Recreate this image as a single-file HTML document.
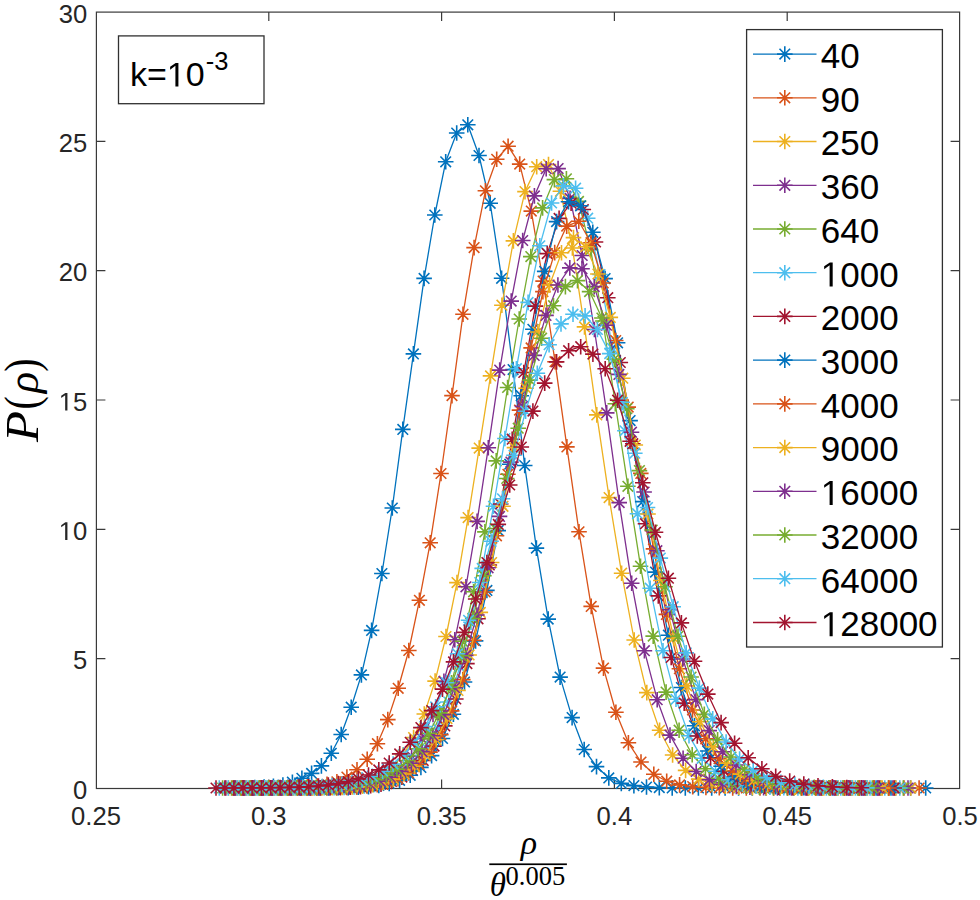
<!DOCTYPE html><html><head><meta charset="utf-8"><style>html,body{margin:0;padding:0;background:#fff;}svg{display:block;}</style></head><body><svg width="980" height="900" viewBox="0 0 980 900"><rect width="980" height="900" fill="#fff"/><rect x="96.4" y="12.1" width="863.2" height="776.4" fill="none" stroke="#3a3a3a" stroke-width="1.2"/><path d="M268.8 788.5v-9.0M268.8 12.1v9.0M441.6 788.5v-9.0M441.6 12.1v9.0M614.4 788.5v-9.0M614.4 12.1v9.0M787.2 788.5v-9.0M787.2 12.1v9.0M96.4 658.7h9.0M959.6 658.7h-9.0M96.4 529.3h9.0M959.6 529.3h-9.0M96.4 400.0h9.0M959.6 400.0h-9.0M96.4 270.7h9.0M959.6 270.7h-9.0M96.4 141.3h9.0M959.6 141.3h-9.0" stroke="#3a3a3a" stroke-width="1.2" fill="none"/><g stroke="#0072BD" fill="none"><polyline points="254.8,787.5 264.1,787.1 273.4,786.4 282.9,785.1 292.4,782.2 301.9,778.3 311.6,773.4 321.4,765.9 331.3,753.3 341.2,734.5 351.2,707.2 361.4,674.9 371.6,630.4 381.9,573.5 392.3,508.0 402.8,429.4 413.4,353.9 424.1,278.4 434.8,215.0 445.7,161.8 456.7,133.0 467.8,124.8 479.0,155.5 490.2,203.3 501.6,278.3 513.1,369.6 524.7,465.5 536.4,548.1 548.2,619.1 560.1,677.1 572.1,717.6 584.2,749.5 596.5,766.6 608.8,777.9 621.3,783.4 633.9,785.6 646.5,787.0 659.3,787.6 672.2,787.9 685.3,788.0 698.4,788.0 711.7,788.0 725.1,788.0 738.6,788.0 752.2,788.0 766.0,788.0 779.8,788.0 793.8,788.0 808.0,788.0 822.2,788.0 836.6,788.0 851.1,788.0 865.8,788.0 880.6,788.0 895.5,788.0 910.5,788.0 925.7,788.0" stroke-width="1.3" stroke-linejoin="round"/><path d="M247.0 787.5h15.6M254.8 779.7v15.6M249.5 782.2l10.6 10.6M249.5 792.8l10.6 -10.6M256.3 787.1h15.6M264.1 779.3v15.6M258.8 781.8l10.6 10.6M258.8 792.4l10.6 -10.6M265.6 786.4h15.6M273.4 778.6v15.6M268.1 781.1l10.6 10.6M268.1 791.7l10.6 -10.6M275.1 785.1h15.6M282.9 777.3v15.6M277.6 779.8l10.6 10.6M277.6 790.4l10.6 -10.6M284.6 782.2h15.6M292.4 774.4v15.6M287.1 776.9l10.6 10.6M287.1 787.5l10.6 -10.6M294.1 778.3h15.6M301.9 770.5v15.6M296.6 773.0l10.6 10.6M296.6 783.6l10.6 -10.6M303.8 773.4h15.6M311.6 765.6v15.6M306.3 768.1l10.6 10.6M306.3 778.7l10.6 -10.6M313.6 765.9h15.6M321.4 758.1v15.6M316.1 760.6l10.6 10.6M316.1 771.2l10.6 -10.6M323.5 753.3h15.6M331.3 745.5v15.6M326.0 748.0l10.6 10.6M326.0 758.6l10.6 -10.6M333.4 734.5h15.6M341.2 726.7v15.6M335.9 729.2l10.6 10.6M335.9 739.8l10.6 -10.6M343.4 707.2h15.6M351.2 699.4v15.6M345.9 701.9l10.6 10.6M345.9 712.5l10.6 -10.6M353.6 674.9h15.6M361.4 667.1v15.6M356.1 669.6l10.6 10.6M356.1 680.2l10.6 -10.6M363.8 630.4h15.6M371.6 622.6v15.6M366.3 625.1l10.6 10.6M366.3 635.7l10.6 -10.6M374.1 573.5h15.6M381.9 565.7v15.6M376.6 568.2l10.6 10.6M376.6 578.8l10.6 -10.6M384.5 508.0h15.6M392.3 500.2v15.6M387.0 502.7l10.6 10.6M387.0 513.3l10.6 -10.6M395.0 429.4h15.6M402.8 421.6v15.6M397.5 424.1l10.6 10.6M397.5 434.7l10.6 -10.6M405.6 353.9h15.6M413.4 346.1v15.6M408.1 348.6l10.6 10.6M408.1 359.2l10.6 -10.6M416.3 278.4h15.6M424.1 270.6v15.6M418.8 273.1l10.6 10.6M418.8 283.7l10.6 -10.6M427.0 215.0h15.6M434.8 207.2v15.6M429.5 209.7l10.6 10.6M429.5 220.3l10.6 -10.6M437.9 161.8h15.6M445.7 154.0v15.6M440.4 156.5l10.6 10.6M440.4 167.1l10.6 -10.6M448.9 133.0h15.6M456.7 125.2v15.6M451.4 127.7l10.6 10.6M451.4 138.3l10.6 -10.6M460.0 124.8h15.6M467.8 117.0v15.6M462.5 119.5l10.6 10.6M462.5 130.1l10.6 -10.6M471.2 155.5h15.6M479.0 147.7v15.6M473.7 150.2l10.6 10.6M473.7 160.8l10.6 -10.6M482.4 203.3h15.6M490.2 195.5v15.6M484.9 198.0l10.6 10.6M484.9 208.6l10.6 -10.6M493.8 278.3h15.6M501.6 270.5v15.6M496.3 273.0l10.6 10.6M496.3 283.6l10.6 -10.6M505.3 369.6h15.6M513.1 361.8v15.6M507.8 364.3l10.6 10.6M507.8 374.9l10.6 -10.6M516.9 465.5h15.6M524.7 457.7v15.6M519.4 460.2l10.6 10.6M519.4 470.8l10.6 -10.6M528.6 548.1h15.6M536.4 540.3v15.6M531.1 542.8l10.6 10.6M531.1 553.4l10.6 -10.6M540.4 619.1h15.6M548.2 611.3v15.6M542.9 613.8l10.6 10.6M542.9 624.4l10.6 -10.6M552.3 677.1h15.6M560.1 669.3v15.6M554.8 671.8l10.6 10.6M554.8 682.4l10.6 -10.6M564.3 717.6h15.6M572.1 709.8v15.6M566.8 712.3l10.6 10.6M566.8 722.9l10.6 -10.6M576.4 749.5h15.6M584.2 741.7v15.6M578.9 744.2l10.6 10.6M578.9 754.8l10.6 -10.6M588.7 766.6h15.6M596.5 758.8v15.6M591.2 761.3l10.6 10.6M591.2 771.9l10.6 -10.6M601.0 777.9h15.6M608.8 770.1v15.6M603.5 772.6l10.6 10.6M603.5 783.2l10.6 -10.6M613.5 783.4h15.6M621.3 775.6v15.6M616.0 778.1l10.6 10.6M616.0 788.7l10.6 -10.6M626.1 785.6h15.6M633.9 777.8v15.6M628.6 780.3l10.6 10.6M628.6 790.9l10.6 -10.6M638.7 787.0h15.6M646.5 779.2v15.6M641.2 781.7l10.6 10.6M641.2 792.3l10.6 -10.6M651.5 787.6h15.6M659.3 779.8v15.6M654.0 782.3l10.6 10.6M654.0 792.9l10.6 -10.6M664.4 787.9h15.6M672.2 780.1v15.6M666.9 782.6l10.6 10.6M666.9 793.2l10.6 -10.6M677.5 788.0h15.6M685.3 780.2v15.6M680.0 782.7l10.6 10.6M680.0 793.3l10.6 -10.6M690.6 788.0h15.6M698.4 780.2v15.6M693.1 782.7l10.6 10.6M693.1 793.3l10.6 -10.6M703.9 788.0h15.6M711.7 780.2v15.6M706.4 782.7l10.6 10.6M706.4 793.3l10.6 -10.6M717.3 788.0h15.6M725.1 780.2v15.6M719.8 782.7l10.6 10.6M719.8 793.3l10.6 -10.6M730.8 788.0h15.6M738.6 780.2v15.6M733.3 782.7l10.6 10.6M733.3 793.3l10.6 -10.6M744.4 788.0h15.6M752.2 780.2v15.6M746.9 782.7l10.6 10.6M746.9 793.3l10.6 -10.6M758.2 788.0h15.6M766.0 780.2v15.6M760.7 782.7l10.6 10.6M760.7 793.3l10.6 -10.6M772.0 788.0h15.6M779.8 780.2v15.6M774.5 782.7l10.6 10.6M774.5 793.3l10.6 -10.6M786.0 788.0h15.6M793.8 780.2v15.6M788.5 782.7l10.6 10.6M788.5 793.3l10.6 -10.6M800.2 788.0h15.6M808.0 780.2v15.6M802.7 782.7l10.6 10.6M802.7 793.3l10.6 -10.6M814.4 788.0h15.6M822.2 780.2v15.6M816.9 782.7l10.6 10.6M816.9 793.3l10.6 -10.6M828.8 788.0h15.6M836.6 780.2v15.6M831.3 782.7l10.6 10.6M831.3 793.3l10.6 -10.6M843.3 788.0h15.6M851.1 780.2v15.6M845.8 782.7l10.6 10.6M845.8 793.3l10.6 -10.6M858.0 788.0h15.6M865.8 780.2v15.6M860.5 782.7l10.6 10.6M860.5 793.3l10.6 -10.6M872.8 788.0h15.6M880.6 780.2v15.6M875.3 782.7l10.6 10.6M875.3 793.3l10.6 -10.6M887.7 788.0h15.6M895.5 780.2v15.6M890.2 782.7l10.6 10.6M890.2 793.3l10.6 -10.6M902.7 788.0h15.6M910.5 780.2v15.6M905.2 782.7l10.6 10.6M905.2 793.3l10.6 -10.6M917.9 788.0h15.6M925.7 780.2v15.6M920.4 782.7l10.6 10.6M920.4 793.3l10.6 -10.6" stroke-width="1.6"/></g><g stroke="#D95319" fill="none"><polyline points="250.9,788.0 260.1,788.0 269.4,787.9 278.8,787.8 288.2,787.7 297.8,787.4 307.4,786.9 317.2,786.0 327.0,784.4 336.9,781.8 346.9,777.0 357.0,769.8 367.2,759.3 377.4,743.7 387.8,719.6 398.2,688.3 408.8,650.5 419.4,600.3 430.2,542.8 441.0,473.5 452.0,395.6 463.0,314.3 474.1,247.6 485.4,190.8 496.7,159.3 508.1,146.2 519.7,164.1 531.3,211.1 543.1,281.1 555.0,361.7 566.9,446.9 579.0,531.8 591.2,606.4 603.5,668.1 615.9,712.2 628.4,742.8 641.0,762.0 653.8,774.3 666.7,781.2 679.6,784.9 692.7,786.6 705.9,787.5 719.3,787.8 732.7,787.9 746.3,788.0 760.0,788.0 773.8,788.0 787.8,788.0 801.9,788.0 816.1,788.0 830.4,788.0 844.8,788.0 859.4,788.0 874.2,788.0 889.0,788.0 904.0,788.0 919.1,788.0" stroke-width="1.3" stroke-linejoin="round"/><path d="M243.1 788.0h15.6M250.9 780.2v15.6M245.6 782.7l10.6 10.6M245.6 793.3l10.6 -10.6M252.3 788.0h15.6M260.1 780.2v15.6M254.8 782.7l10.6 10.6M254.8 793.3l10.6 -10.6M261.6 787.9h15.6M269.4 780.1v15.6M264.1 782.6l10.6 10.6M264.1 793.2l10.6 -10.6M271.0 787.8h15.6M278.8 780.0v15.6M273.5 782.5l10.6 10.6M273.5 793.1l10.6 -10.6M280.4 787.7h15.6M288.2 779.9v15.6M282.9 782.4l10.6 10.6M282.9 793.0l10.6 -10.6M290.0 787.4h15.6M297.8 779.6v15.6M292.5 782.1l10.6 10.6M292.5 792.7l10.6 -10.6M299.6 786.9h15.6M307.4 779.1v15.6M302.1 781.6l10.6 10.6M302.1 792.2l10.6 -10.6M309.4 786.0h15.6M317.2 778.2v15.6M311.9 780.7l10.6 10.6M311.9 791.3l10.6 -10.6M319.2 784.4h15.6M327.0 776.6v15.6M321.7 779.1l10.6 10.6M321.7 789.7l10.6 -10.6M329.1 781.8h15.6M336.9 774.0v15.6M331.6 776.5l10.6 10.6M331.6 787.1l10.6 -10.6M339.1 777.0h15.6M346.9 769.2v15.6M341.6 771.7l10.6 10.6M341.6 782.3l10.6 -10.6M349.2 769.8h15.6M357.0 762.0v15.6M351.7 764.5l10.6 10.6M351.7 775.1l10.6 -10.6M359.4 759.3h15.6M367.2 751.5v15.6M361.9 754.0l10.6 10.6M361.9 764.6l10.6 -10.6M369.6 743.7h15.6M377.4 735.9v15.6M372.1 738.4l10.6 10.6M372.1 749.0l10.6 -10.6M380.0 719.6h15.6M387.8 711.8v15.6M382.5 714.3l10.6 10.6M382.5 724.9l10.6 -10.6M390.4 688.3h15.6M398.2 680.5v15.6M392.9 683.0l10.6 10.6M392.9 693.6l10.6 -10.6M401.0 650.5h15.6M408.8 642.7v15.6M403.5 645.2l10.6 10.6M403.5 655.8l10.6 -10.6M411.6 600.3h15.6M419.4 592.5v15.6M414.1 595.0l10.6 10.6M414.1 605.6l10.6 -10.6M422.4 542.8h15.6M430.2 535.0v15.6M424.9 537.5l10.6 10.6M424.9 548.1l10.6 -10.6M433.2 473.5h15.6M441.0 465.7v15.6M435.7 468.2l10.6 10.6M435.7 478.8l10.6 -10.6M444.2 395.6h15.6M452.0 387.8v15.6M446.7 390.3l10.6 10.6M446.7 400.9l10.6 -10.6M455.2 314.3h15.6M463.0 306.5v15.6M457.7 309.0l10.6 10.6M457.7 319.6l10.6 -10.6M466.3 247.6h15.6M474.1 239.8v15.6M468.8 242.3l10.6 10.6M468.8 252.9l10.6 -10.6M477.6 190.8h15.6M485.4 183.0v15.6M480.1 185.5l10.6 10.6M480.1 196.1l10.6 -10.6M488.9 159.3h15.6M496.7 151.5v15.6M491.4 154.0l10.6 10.6M491.4 164.6l10.6 -10.6M500.3 146.2h15.6M508.1 138.4v15.6M502.8 140.9l10.6 10.6M502.8 151.5l10.6 -10.6M511.9 164.1h15.6M519.7 156.3v15.6M514.4 158.8l10.6 10.6M514.4 169.4l10.6 -10.6M523.5 211.1h15.6M531.3 203.3v15.6M526.0 205.8l10.6 10.6M526.0 216.4l10.6 -10.6M535.3 281.1h15.6M543.1 273.3v15.6M537.8 275.8l10.6 10.6M537.8 286.4l10.6 -10.6M547.2 361.7h15.6M555.0 353.9v15.6M549.7 356.4l10.6 10.6M549.7 367.0l10.6 -10.6M559.1 446.9h15.6M566.9 439.1v15.6M561.6 441.6l10.6 10.6M561.6 452.2l10.6 -10.6M571.2 531.8h15.6M579.0 524.0v15.6M573.7 526.5l10.6 10.6M573.7 537.1l10.6 -10.6M583.4 606.4h15.6M591.2 598.6v15.6M585.9 601.1l10.6 10.6M585.9 611.7l10.6 -10.6M595.7 668.1h15.6M603.5 660.3v15.6M598.2 662.8l10.6 10.6M598.2 673.4l10.6 -10.6M608.1 712.2h15.6M615.9 704.4v15.6M610.6 706.9l10.6 10.6M610.6 717.5l10.6 -10.6M620.6 742.8h15.6M628.4 735.0v15.6M623.1 737.5l10.6 10.6M623.1 748.1l10.6 -10.6M633.2 762.0h15.6M641.0 754.2v15.6M635.7 756.7l10.6 10.6M635.7 767.3l10.6 -10.6M646.0 774.3h15.6M653.8 766.5v15.6M648.5 769.0l10.6 10.6M648.5 779.6l10.6 -10.6M658.9 781.2h15.6M666.7 773.4v15.6M661.4 775.9l10.6 10.6M661.4 786.5l10.6 -10.6M671.8 784.9h15.6M679.6 777.1v15.6M674.3 779.6l10.6 10.6M674.3 790.2l10.6 -10.6M684.9 786.6h15.6M692.7 778.8v15.6M687.4 781.3l10.6 10.6M687.4 791.9l10.6 -10.6M698.1 787.5h15.6M705.9 779.7v15.6M700.6 782.2l10.6 10.6M700.6 792.8l10.6 -10.6M711.5 787.8h15.6M719.3 780.0v15.6M714.0 782.5l10.6 10.6M714.0 793.1l10.6 -10.6M724.9 787.9h15.6M732.7 780.1v15.6M727.4 782.6l10.6 10.6M727.4 793.2l10.6 -10.6M738.5 788.0h15.6M746.3 780.2v15.6M741.0 782.7l10.6 10.6M741.0 793.3l10.6 -10.6M752.2 788.0h15.6M760.0 780.2v15.6M754.7 782.7l10.6 10.6M754.7 793.3l10.6 -10.6M766.0 788.0h15.6M773.8 780.2v15.6M768.5 782.7l10.6 10.6M768.5 793.3l10.6 -10.6M780.0 788.0h15.6M787.8 780.2v15.6M782.5 782.7l10.6 10.6M782.5 793.3l10.6 -10.6M794.1 788.0h15.6M801.9 780.2v15.6M796.6 782.7l10.6 10.6M796.6 793.3l10.6 -10.6M808.3 788.0h15.6M816.1 780.2v15.6M810.8 782.7l10.6 10.6M810.8 793.3l10.6 -10.6M822.6 788.0h15.6M830.4 780.2v15.6M825.1 782.7l10.6 10.6M825.1 793.3l10.6 -10.6M837.0 788.0h15.6M844.8 780.2v15.6M839.5 782.7l10.6 10.6M839.5 793.3l10.6 -10.6M851.6 788.0h15.6M859.4 780.2v15.6M854.1 782.7l10.6 10.6M854.1 793.3l10.6 -10.6M866.4 788.0h15.6M874.2 780.2v15.6M868.9 782.7l10.6 10.6M868.9 793.3l10.6 -10.6M881.2 788.0h15.6M889.0 780.2v15.6M883.7 782.7l10.6 10.6M883.7 793.3l10.6 -10.6M896.2 788.0h15.6M904.0 780.2v15.6M898.7 782.7l10.6 10.6M898.7 793.3l10.6 -10.6M911.3 788.0h15.6M919.1 780.2v15.6M913.8 782.7l10.6 10.6M913.8 793.3l10.6 -10.6" stroke-width="1.6"/></g><g stroke="#EDB120" fill="none"><polyline points="245.9,788.0 255.1,788.0 264.3,788.0 273.7,788.0 283.1,788.0 292.6,787.9 302.2,787.9 311.9,787.8 321.6,787.6 331.5,787.2 341.4,786.6 351.5,785.5 361.6,783.5 371.8,780.4 382.1,775.2 392.5,767.2 403.0,755.1 413.6,737.6 424.3,714.0 435.1,681.1 446.0,636.5 457.0,582.6 468.1,517.6 479.2,448.1 490.5,375.9 501.9,305.2 513.4,240.9 525.0,191.6 536.7,166.7 548.5,164.6 560.4,191.3 572.4,248.0 584.5,326.9 596.8,414.9 609.1,497.6 621.6,573.2 634.2,640.0 646.8,692.6 659.6,730.3 672.6,755.0 685.6,770.4 698.7,779.1 712.0,783.9 725.4,786.2 738.9,787.3 752.5,787.7 766.3,787.9 780.2,788.0 794.2,788.0 808.3,788.0 822.6,788.0 837.0,788.0 851.5,788.0 866.1,788.0 880.9,788.0 895.8,788.0 910.9,788.0" stroke-width="1.3" stroke-linejoin="round"/><path d="M238.1 788.0h15.6M245.9 780.2v15.6M240.6 782.7l10.6 10.6M240.6 793.3l10.6 -10.6M247.3 788.0h15.6M255.1 780.2v15.6M249.8 782.7l10.6 10.6M249.8 793.3l10.6 -10.6M256.5 788.0h15.6M264.3 780.2v15.6M259.0 782.7l10.6 10.6M259.0 793.3l10.6 -10.6M265.9 788.0h15.6M273.7 780.2v15.6M268.4 782.7l10.6 10.6M268.4 793.3l10.6 -10.6M275.3 788.0h15.6M283.1 780.2v15.6M277.8 782.7l10.6 10.6M277.8 793.3l10.6 -10.6M284.8 787.9h15.6M292.6 780.1v15.6M287.3 782.6l10.6 10.6M287.3 793.2l10.6 -10.6M294.4 787.9h15.6M302.2 780.1v15.6M296.9 782.6l10.6 10.6M296.9 793.2l10.6 -10.6M304.1 787.8h15.6M311.9 780.0v15.6M306.6 782.5l10.6 10.6M306.6 793.1l10.6 -10.6M313.8 787.6h15.6M321.6 779.8v15.6M316.3 782.3l10.6 10.6M316.3 792.9l10.6 -10.6M323.7 787.2h15.6M331.5 779.4v15.6M326.2 781.9l10.6 10.6M326.2 792.5l10.6 -10.6M333.6 786.6h15.6M341.4 778.8v15.6M336.1 781.3l10.6 10.6M336.1 791.9l10.6 -10.6M343.7 785.5h15.6M351.5 777.7v15.6M346.2 780.2l10.6 10.6M346.2 790.8l10.6 -10.6M353.8 783.5h15.6M361.6 775.7v15.6M356.3 778.2l10.6 10.6M356.3 788.8l10.6 -10.6M364.0 780.4h15.6M371.8 772.6v15.6M366.5 775.1l10.6 10.6M366.5 785.7l10.6 -10.6M374.3 775.2h15.6M382.1 767.4v15.6M376.8 769.9l10.6 10.6M376.8 780.5l10.6 -10.6M384.7 767.2h15.6M392.5 759.4v15.6M387.2 761.9l10.6 10.6M387.2 772.5l10.6 -10.6M395.2 755.1h15.6M403.0 747.3v15.6M397.7 749.8l10.6 10.6M397.7 760.4l10.6 -10.6M405.8 737.6h15.6M413.6 729.8v15.6M408.3 732.3l10.6 10.6M408.3 742.9l10.6 -10.6M416.5 714.0h15.6M424.3 706.2v15.6M419.0 708.7l10.6 10.6M419.0 719.3l10.6 -10.6M427.3 681.1h15.6M435.1 673.3v15.6M429.8 675.8l10.6 10.6M429.8 686.4l10.6 -10.6M438.2 636.5h15.6M446.0 628.7v15.6M440.7 631.2l10.6 10.6M440.7 641.8l10.6 -10.6M449.2 582.6h15.6M457.0 574.8v15.6M451.7 577.3l10.6 10.6M451.7 587.9l10.6 -10.6M460.3 517.6h15.6M468.1 509.8v15.6M462.8 512.3l10.6 10.6M462.8 522.9l10.6 -10.6M471.4 448.1h15.6M479.2 440.3v15.6M473.9 442.8l10.6 10.6M473.9 453.4l10.6 -10.6M482.7 375.9h15.6M490.5 368.1v15.6M485.2 370.6l10.6 10.6M485.2 381.2l10.6 -10.6M494.1 305.2h15.6M501.9 297.4v15.6M496.6 299.9l10.6 10.6M496.6 310.5l10.6 -10.6M505.6 240.9h15.6M513.4 233.1v15.6M508.1 235.6l10.6 10.6M508.1 246.2l10.6 -10.6M517.2 191.6h15.6M525.0 183.8v15.6M519.7 186.3l10.6 10.6M519.7 196.9l10.6 -10.6M528.9 166.7h15.6M536.7 158.9v15.6M531.4 161.4l10.6 10.6M531.4 172.0l10.6 -10.6M540.7 164.6h15.6M548.5 156.8v15.6M543.2 159.3l10.6 10.6M543.2 169.9l10.6 -10.6M552.6 191.3h15.6M560.4 183.5v15.6M555.1 186.0l10.6 10.6M555.1 196.6l10.6 -10.6M564.6 248.0h15.6M572.4 240.2v15.6M567.1 242.7l10.6 10.6M567.1 253.3l10.6 -10.6M576.7 326.9h15.6M584.5 319.1v15.6M579.2 321.6l10.6 10.6M579.2 332.2l10.6 -10.6M589.0 414.9h15.6M596.8 407.1v15.6M591.5 409.6l10.6 10.6M591.5 420.2l10.6 -10.6M601.3 497.6h15.6M609.1 489.8v15.6M603.8 492.3l10.6 10.6M603.8 502.9l10.6 -10.6M613.8 573.2h15.6M621.6 565.4v15.6M616.3 567.9l10.6 10.6M616.3 578.5l10.6 -10.6M626.4 640.0h15.6M634.2 632.2v15.6M628.9 634.7l10.6 10.6M628.9 645.3l10.6 -10.6M639.0 692.6h15.6M646.8 684.8v15.6M641.5 687.3l10.6 10.6M641.5 697.9l10.6 -10.6M651.8 730.3h15.6M659.6 722.5v15.6M654.3 725.0l10.6 10.6M654.3 735.6l10.6 -10.6M664.8 755.0h15.6M672.6 747.2v15.6M667.3 749.7l10.6 10.6M667.3 760.3l10.6 -10.6M677.8 770.4h15.6M685.6 762.6v15.6M680.3 765.1l10.6 10.6M680.3 775.7l10.6 -10.6M690.9 779.1h15.6M698.7 771.3v15.6M693.4 773.8l10.6 10.6M693.4 784.4l10.6 -10.6M704.2 783.9h15.6M712.0 776.1v15.6M706.7 778.6l10.6 10.6M706.7 789.2l10.6 -10.6M717.6 786.2h15.6M725.4 778.4v15.6M720.1 780.9l10.6 10.6M720.1 791.5l10.6 -10.6M731.1 787.3h15.6M738.9 779.5v15.6M733.6 782.0l10.6 10.6M733.6 792.6l10.6 -10.6M744.7 787.7h15.6M752.5 779.9v15.6M747.2 782.4l10.6 10.6M747.2 793.0l10.6 -10.6M758.5 787.9h15.6M766.3 780.1v15.6M761.0 782.6l10.6 10.6M761.0 793.2l10.6 -10.6M772.4 788.0h15.6M780.2 780.2v15.6M774.9 782.7l10.6 10.6M774.9 793.3l10.6 -10.6M786.4 788.0h15.6M794.2 780.2v15.6M788.9 782.7l10.6 10.6M788.9 793.3l10.6 -10.6M800.5 788.0h15.6M808.3 780.2v15.6M803.0 782.7l10.6 10.6M803.0 793.3l10.6 -10.6M814.8 788.0h15.6M822.6 780.2v15.6M817.3 782.7l10.6 10.6M817.3 793.3l10.6 -10.6M829.2 788.0h15.6M837.0 780.2v15.6M831.7 782.7l10.6 10.6M831.7 793.3l10.6 -10.6M843.7 788.0h15.6M851.5 780.2v15.6M846.2 782.7l10.6 10.6M846.2 793.3l10.6 -10.6M858.3 788.0h15.6M866.1 780.2v15.6M860.8 782.7l10.6 10.6M860.8 793.3l10.6 -10.6M873.1 788.0h15.6M880.9 780.2v15.6M875.6 782.7l10.6 10.6M875.6 793.3l10.6 -10.6M888.0 788.0h15.6M895.8 780.2v15.6M890.5 782.7l10.6 10.6M890.5 793.3l10.6 -10.6M903.1 788.0h15.6M910.9 780.2v15.6M905.6 782.7l10.6 10.6M905.6 793.3l10.6 -10.6" stroke-width="1.6"/></g><g stroke="#7E2F8E" fill="none"><polyline points="244.1,788.0 253.3,788.0 262.5,788.0 271.8,788.0 281.2,788.0 290.7,788.0 300.3,788.0 310.0,787.9 319.7,787.8 329.6,787.6 339.5,787.3 349.5,786.7 359.6,785.6 369.8,783.8 380.1,780.7 390.5,775.8 401.0,768.0 411.6,756.1 422.2,738.8 433.0,714.4 443.9,681.4 454.8,639.8 465.9,586.8 477.1,521.4 488.3,447.7 499.7,370.1 511.2,301.1 522.7,240.5 534.4,195.9 546.2,168.7 558.1,168.6 570.1,198.4 582.2,255.5 594.4,329.5 606.7,412.9 619.2,502.6 631.7,583.3 644.4,650.7 657.2,699.7 670.0,735.1 683.1,758.2 696.2,771.5 709.4,779.8 722.8,784.2 736.3,786.4 749.9,787.3 763.6,787.8 777.5,787.9 791.5,788.0 805.6,788.0 819.8,788.0 834.2,788.0 848.7,788.0 863.3,788.0 878.0,788.0 892.9,788.0 908.0,788.0" stroke-width="1.3" stroke-linejoin="round"/><path d="M236.3 788.0h15.6M244.1 780.2v15.6M238.8 782.7l10.6 10.6M238.8 793.3l10.6 -10.6M245.5 788.0h15.6M253.3 780.2v15.6M248.0 782.7l10.6 10.6M248.0 793.3l10.6 -10.6M254.7 788.0h15.6M262.5 780.2v15.6M257.2 782.7l10.6 10.6M257.2 793.3l10.6 -10.6M264.0 788.0h15.6M271.8 780.2v15.6M266.5 782.7l10.6 10.6M266.5 793.3l10.6 -10.6M273.4 788.0h15.6M281.2 780.2v15.6M275.9 782.7l10.6 10.6M275.9 793.3l10.6 -10.6M282.9 788.0h15.6M290.7 780.2v15.6M285.4 782.7l10.6 10.6M285.4 793.3l10.6 -10.6M292.5 788.0h15.6M300.3 780.2v15.6M295.0 782.7l10.6 10.6M295.0 793.3l10.6 -10.6M302.2 787.9h15.6M310.0 780.1v15.6M304.7 782.6l10.6 10.6M304.7 793.2l10.6 -10.6M311.9 787.8h15.6M319.7 780.0v15.6M314.4 782.5l10.6 10.6M314.4 793.1l10.6 -10.6M321.8 787.6h15.6M329.6 779.8v15.6M324.3 782.3l10.6 10.6M324.3 792.9l10.6 -10.6M331.7 787.3h15.6M339.5 779.5v15.6M334.2 782.0l10.6 10.6M334.2 792.6l10.6 -10.6M341.7 786.7h15.6M349.5 778.9v15.6M344.2 781.4l10.6 10.6M344.2 792.0l10.6 -10.6M351.8 785.6h15.6M359.6 777.8v15.6M354.3 780.3l10.6 10.6M354.3 790.9l10.6 -10.6M362.0 783.8h15.6M369.8 776.0v15.6M364.5 778.5l10.6 10.6M364.5 789.1l10.6 -10.6M372.3 780.7h15.6M380.1 772.9v15.6M374.8 775.4l10.6 10.6M374.8 786.0l10.6 -10.6M382.7 775.8h15.6M390.5 768.0v15.6M385.2 770.5l10.6 10.6M385.2 781.1l10.6 -10.6M393.2 768.0h15.6M401.0 760.2v15.6M395.7 762.7l10.6 10.6M395.7 773.3l10.6 -10.6M403.8 756.1h15.6M411.6 748.3v15.6M406.3 750.8l10.6 10.6M406.3 761.4l10.6 -10.6M414.4 738.8h15.6M422.2 731.0v15.6M416.9 733.5l10.6 10.6M416.9 744.1l10.6 -10.6M425.2 714.4h15.6M433.0 706.6v15.6M427.7 709.1l10.6 10.6M427.7 719.7l10.6 -10.6M436.1 681.4h15.6M443.9 673.6v15.6M438.6 676.1l10.6 10.6M438.6 686.7l10.6 -10.6M447.0 639.8h15.6M454.8 632.0v15.6M449.5 634.5l10.6 10.6M449.5 645.1l10.6 -10.6M458.1 586.8h15.6M465.9 579.0v15.6M460.6 581.5l10.6 10.6M460.6 592.1l10.6 -10.6M469.3 521.4h15.6M477.1 513.6v15.6M471.8 516.1l10.6 10.6M471.8 526.7l10.6 -10.6M480.5 447.7h15.6M488.3 439.9v15.6M483.0 442.4l10.6 10.6M483.0 453.0l10.6 -10.6M491.9 370.1h15.6M499.7 362.3v15.6M494.4 364.8l10.6 10.6M494.4 375.4l10.6 -10.6M503.4 301.1h15.6M511.2 293.3v15.6M505.9 295.8l10.6 10.6M505.9 306.4l10.6 -10.6M514.9 240.5h15.6M522.7 232.7v15.6M517.4 235.2l10.6 10.6M517.4 245.8l10.6 -10.6M526.6 195.9h15.6M534.4 188.1v15.6M529.1 190.6l10.6 10.6M529.1 201.2l10.6 -10.6M538.4 168.7h15.6M546.2 160.9v15.6M540.9 163.4l10.6 10.6M540.9 174.0l10.6 -10.6M550.3 168.6h15.6M558.1 160.8v15.6M552.8 163.3l10.6 10.6M552.8 173.9l10.6 -10.6M562.3 198.4h15.6M570.1 190.6v15.6M564.8 193.1l10.6 10.6M564.8 203.7l10.6 -10.6M574.4 255.5h15.6M582.2 247.7v15.6M576.9 250.2l10.6 10.6M576.9 260.8l10.6 -10.6M586.6 329.5h15.6M594.4 321.7v15.6M589.1 324.2l10.6 10.6M589.1 334.8l10.6 -10.6M598.9 412.9h15.6M606.7 405.1v15.6M601.4 407.6l10.6 10.6M601.4 418.2l10.6 -10.6M611.4 502.6h15.6M619.2 494.8v15.6M613.9 497.3l10.6 10.6M613.9 507.9l10.6 -10.6M623.9 583.3h15.6M631.7 575.5v15.6M626.4 578.0l10.6 10.6M626.4 588.6l10.6 -10.6M636.6 650.7h15.6M644.4 642.9v15.6M639.1 645.4l10.6 10.6M639.1 656.0l10.6 -10.6M649.4 699.7h15.6M657.2 691.9v15.6M651.9 694.4l10.6 10.6M651.9 705.0l10.6 -10.6M662.2 735.1h15.6M670.0 727.3v15.6M664.7 729.8l10.6 10.6M664.7 740.4l10.6 -10.6M675.3 758.2h15.6M683.1 750.4v15.6M677.8 752.9l10.6 10.6M677.8 763.5l10.6 -10.6M688.4 771.5h15.6M696.2 763.7v15.6M690.9 766.2l10.6 10.6M690.9 776.8l10.6 -10.6M701.6 779.8h15.6M709.4 772.0v15.6M704.1 774.5l10.6 10.6M704.1 785.1l10.6 -10.6M715.0 784.2h15.6M722.8 776.4v15.6M717.5 778.9l10.6 10.6M717.5 789.5l10.6 -10.6M728.5 786.4h15.6M736.3 778.6v15.6M731.0 781.1l10.6 10.6M731.0 791.7l10.6 -10.6M742.1 787.3h15.6M749.9 779.5v15.6M744.6 782.0l10.6 10.6M744.6 792.6l10.6 -10.6M755.8 787.8h15.6M763.6 780.0v15.6M758.3 782.5l10.6 10.6M758.3 793.1l10.6 -10.6M769.7 787.9h15.6M777.5 780.1v15.6M772.2 782.6l10.6 10.6M772.2 793.2l10.6 -10.6M783.7 788.0h15.6M791.5 780.2v15.6M786.2 782.7l10.6 10.6M786.2 793.3l10.6 -10.6M797.8 788.0h15.6M805.6 780.2v15.6M800.3 782.7l10.6 10.6M800.3 793.3l10.6 -10.6M812.0 788.0h15.6M819.8 780.2v15.6M814.5 782.7l10.6 10.6M814.5 793.3l10.6 -10.6M826.4 788.0h15.6M834.2 780.2v15.6M828.9 782.7l10.6 10.6M828.9 793.3l10.6 -10.6M840.9 788.0h15.6M848.7 780.2v15.6M843.4 782.7l10.6 10.6M843.4 793.3l10.6 -10.6M855.5 788.0h15.6M863.3 780.2v15.6M858.0 782.7l10.6 10.6M858.0 793.3l10.6 -10.6M870.2 788.0h15.6M878.0 780.2v15.6M872.7 782.7l10.6 10.6M872.7 793.3l10.6 -10.6M885.1 788.0h15.6M892.9 780.2v15.6M887.6 782.7l10.6 10.6M887.6 793.3l10.6 -10.6M900.2 788.0h15.6M908.0 780.2v15.6M902.7 782.7l10.6 10.6M902.7 793.3l10.6 -10.6" stroke-width="1.6"/></g><g stroke="#77AC30" fill="none"><polyline points="241.3,788.0 250.5,788.0 259.7,788.0 269.0,788.0 278.4,788.0 287.8,788.0 297.4,788.0 307.0,787.9 316.7,787.9 326.6,787.8 336.5,787.6 346.4,787.2 356.5,786.6 366.7,785.4 377.0,783.5 387.3,780.3 397.8,775.2 408.3,767.4 419.0,755.6 429.7,738.6 440.5,714.8 451.5,682.7 462.5,641.3 473.6,591.8 484.9,531.9 496.2,460.9 507.6,387.5 519.2,319.0 530.8,256.6 542.6,207.9 554.4,179.6 566.4,178.8 578.5,201.4 590.7,249.6 602.9,321.0 615.3,403.8 627.9,486.3 640.5,566.2 653.2,636.1 666.1,692.1 679.1,730.2 692.2,754.8 705.4,768.8 718.7,778.3 732.1,783.4 745.7,786.0 759.4,787.2 773.2,787.7 787.2,787.9 801.2,788.0 815.4,788.0 829.8,788.0 844.2,788.0 858.8,788.0 873.5,788.0 888.4,788.0 903.3,788.0" stroke-width="1.3" stroke-linejoin="round"/><path d="M233.5 788.0h15.6M241.3 780.2v15.6M236.0 782.7l10.6 10.6M236.0 793.3l10.6 -10.6M242.7 788.0h15.6M250.5 780.2v15.6M245.2 782.7l10.6 10.6M245.2 793.3l10.6 -10.6M251.9 788.0h15.6M259.7 780.2v15.6M254.4 782.7l10.6 10.6M254.4 793.3l10.6 -10.6M261.2 788.0h15.6M269.0 780.2v15.6M263.7 782.7l10.6 10.6M263.7 793.3l10.6 -10.6M270.6 788.0h15.6M278.4 780.2v15.6M273.1 782.7l10.6 10.6M273.1 793.3l10.6 -10.6M280.0 788.0h15.6M287.8 780.2v15.6M282.5 782.7l10.6 10.6M282.5 793.3l10.6 -10.6M289.6 788.0h15.6M297.4 780.2v15.6M292.1 782.7l10.6 10.6M292.1 793.3l10.6 -10.6M299.2 787.9h15.6M307.0 780.1v15.6M301.7 782.6l10.6 10.6M301.7 793.2l10.6 -10.6M308.9 787.9h15.6M316.7 780.1v15.6M311.4 782.6l10.6 10.6M311.4 793.2l10.6 -10.6M318.8 787.8h15.6M326.6 780.0v15.6M321.3 782.5l10.6 10.6M321.3 793.1l10.6 -10.6M328.7 787.6h15.6M336.5 779.8v15.6M331.2 782.3l10.6 10.6M331.2 792.9l10.6 -10.6M338.6 787.2h15.6M346.4 779.4v15.6M341.1 781.9l10.6 10.6M341.1 792.5l10.6 -10.6M348.7 786.6h15.6M356.5 778.8v15.6M351.2 781.3l10.6 10.6M351.2 791.9l10.6 -10.6M358.9 785.4h15.6M366.7 777.6v15.6M361.4 780.1l10.6 10.6M361.4 790.7l10.6 -10.6M369.2 783.5h15.6M377.0 775.7v15.6M371.7 778.2l10.6 10.6M371.7 788.8l10.6 -10.6M379.5 780.3h15.6M387.3 772.5v15.6M382.0 775.0l10.6 10.6M382.0 785.6l10.6 -10.6M390.0 775.2h15.6M397.8 767.4v15.6M392.5 769.9l10.6 10.6M392.5 780.5l10.6 -10.6M400.5 767.4h15.6M408.3 759.6v15.6M403.0 762.1l10.6 10.6M403.0 772.7l10.6 -10.6M411.2 755.6h15.6M419.0 747.8v15.6M413.7 750.3l10.6 10.6M413.7 760.9l10.6 -10.6M421.9 738.6h15.6M429.7 730.8v15.6M424.4 733.3l10.6 10.6M424.4 743.9l10.6 -10.6M432.7 714.8h15.6M440.5 707.0v15.6M435.2 709.5l10.6 10.6M435.2 720.1l10.6 -10.6M443.7 682.7h15.6M451.5 674.9v15.6M446.2 677.4l10.6 10.6M446.2 688.0l10.6 -10.6M454.7 641.3h15.6M462.5 633.5v15.6M457.2 636.0l10.6 10.6M457.2 646.6l10.6 -10.6M465.8 591.8h15.6M473.6 584.0v15.6M468.3 586.5l10.6 10.6M468.3 597.1l10.6 -10.6M477.1 531.9h15.6M484.9 524.1v15.6M479.6 526.6l10.6 10.6M479.6 537.2l10.6 -10.6M488.4 460.9h15.6M496.2 453.1v15.6M490.9 455.6l10.6 10.6M490.9 466.2l10.6 -10.6M499.8 387.5h15.6M507.6 379.7v15.6M502.3 382.2l10.6 10.6M502.3 392.8l10.6 -10.6M511.4 319.0h15.6M519.2 311.2v15.6M513.9 313.7l10.6 10.6M513.9 324.3l10.6 -10.6M523.0 256.6h15.6M530.8 248.8v15.6M525.5 251.3l10.6 10.6M525.5 261.9l10.6 -10.6M534.8 207.9h15.6M542.6 200.1v15.6M537.3 202.6l10.6 10.6M537.3 213.2l10.6 -10.6M546.6 179.6h15.6M554.4 171.8v15.6M549.1 174.3l10.6 10.6M549.1 184.9l10.6 -10.6M558.6 178.8h15.6M566.4 171.0v15.6M561.1 173.5l10.6 10.6M561.1 184.1l10.6 -10.6M570.7 201.4h15.6M578.5 193.6v15.6M573.2 196.1l10.6 10.6M573.2 206.7l10.6 -10.6M582.9 249.6h15.6M590.7 241.8v15.6M585.4 244.3l10.6 10.6M585.4 254.9l10.6 -10.6M595.1 321.0h15.6M602.9 313.2v15.6M597.6 315.7l10.6 10.6M597.6 326.3l10.6 -10.6M607.5 403.8h15.6M615.3 396.0v15.6M610.0 398.5l10.6 10.6M610.0 409.1l10.6 -10.6M620.1 486.3h15.6M627.9 478.5v15.6M622.6 481.0l10.6 10.6M622.6 491.6l10.6 -10.6M632.7 566.2h15.6M640.5 558.4v15.6M635.2 560.9l10.6 10.6M635.2 571.5l10.6 -10.6M645.4 636.1h15.6M653.2 628.3v15.6M647.9 630.8l10.6 10.6M647.9 641.4l10.6 -10.6M658.3 692.1h15.6M666.1 684.3v15.6M660.8 686.8l10.6 10.6M660.8 697.4l10.6 -10.6M671.3 730.2h15.6M679.1 722.4v15.6M673.8 724.9l10.6 10.6M673.8 735.5l10.6 -10.6M684.4 754.8h15.6M692.2 747.0v15.6M686.9 749.5l10.6 10.6M686.9 760.1l10.6 -10.6M697.6 768.8h15.6M705.4 761.0v15.6M700.1 763.5l10.6 10.6M700.1 774.1l10.6 -10.6M710.9 778.3h15.6M718.7 770.5v15.6M713.4 773.0l10.6 10.6M713.4 783.6l10.6 -10.6M724.3 783.4h15.6M732.1 775.6v15.6M726.8 778.1l10.6 10.6M726.8 788.7l10.6 -10.6M737.9 786.0h15.6M745.7 778.2v15.6M740.4 780.7l10.6 10.6M740.4 791.3l10.6 -10.6M751.6 787.2h15.6M759.4 779.4v15.6M754.1 781.9l10.6 10.6M754.1 792.5l10.6 -10.6M765.4 787.7h15.6M773.2 779.9v15.6M767.9 782.4l10.6 10.6M767.9 793.0l10.6 -10.6M779.4 787.9h15.6M787.2 780.1v15.6M781.9 782.6l10.6 10.6M781.9 793.2l10.6 -10.6M793.4 788.0h15.6M801.2 780.2v15.6M795.9 782.7l10.6 10.6M795.9 793.3l10.6 -10.6M807.6 788.0h15.6M815.4 780.2v15.6M810.1 782.7l10.6 10.6M810.1 793.3l10.6 -10.6M822.0 788.0h15.6M829.8 780.2v15.6M824.5 782.7l10.6 10.6M824.5 793.3l10.6 -10.6M836.4 788.0h15.6M844.2 780.2v15.6M838.9 782.7l10.6 10.6M838.9 793.3l10.6 -10.6M851.0 788.0h15.6M858.8 780.2v15.6M853.5 782.7l10.6 10.6M853.5 793.3l10.6 -10.6M865.7 788.0h15.6M873.5 780.2v15.6M868.2 782.7l10.6 10.6M868.2 793.3l10.6 -10.6M880.6 788.0h15.6M888.4 780.2v15.6M883.1 782.7l10.6 10.6M883.1 793.3l10.6 -10.6M895.5 788.0h15.6M903.3 780.2v15.6M898.0 782.7l10.6 10.6M898.0 793.3l10.6 -10.6" stroke-width="1.6"/></g><g stroke="#4DBEEE" fill="none"><polyline points="239.2,788.0 248.3,788.0 257.5,788.0 266.8,788.0 276.1,788.0 285.6,788.0 295.1,788.0 304.7,788.0 314.4,787.9 324.2,787.8 334.1,787.7 344.1,787.4 354.1,786.9 364.3,786.0 374.5,784.5 384.9,781.9 395.3,777.9 405.8,771.7 416.4,762.2 427.1,748.4 438.0,728.8 448.9,702.0 459.9,666.8 471.0,622.3 482.2,568.4 493.5,506.3 504.9,438.5 516.4,368.7 528.1,302.4 539.8,245.8 551.6,203.0 563.5,185.9 575.6,188.2 587.7,218.2 600.0,274.5 612.4,348.4 624.9,430.8 637.5,513.7 650.2,588.2 663.0,650.7 676.0,699.3 689.0,735.7 702.2,758.3 715.5,771.3 728.9,779.6 742.5,784.0 756.1,786.3 769.9,787.3 783.8,787.7 797.9,787.9 812.0,788.0 826.3,788.0 840.8,788.0 855.3,788.0 870.0,788.0 884.8,788.0 899.8,788.0" stroke-width="1.3" stroke-linejoin="round"/><path d="M231.4 788.0h15.6M239.2 780.2v15.6M233.9 782.7l10.6 10.6M233.9 793.3l10.6 -10.6M240.5 788.0h15.6M248.3 780.2v15.6M243.0 782.7l10.6 10.6M243.0 793.3l10.6 -10.6M249.7 788.0h15.6M257.5 780.2v15.6M252.2 782.7l10.6 10.6M252.2 793.3l10.6 -10.6M259.0 788.0h15.6M266.8 780.2v15.6M261.5 782.7l10.6 10.6M261.5 793.3l10.6 -10.6M268.3 788.0h15.6M276.1 780.2v15.6M270.8 782.7l10.6 10.6M270.8 793.3l10.6 -10.6M277.8 788.0h15.6M285.6 780.2v15.6M280.3 782.7l10.6 10.6M280.3 793.3l10.6 -10.6M287.3 788.0h15.6M295.1 780.2v15.6M289.8 782.7l10.6 10.6M289.8 793.3l10.6 -10.6M296.9 788.0h15.6M304.7 780.2v15.6M299.4 782.7l10.6 10.6M299.4 793.3l10.6 -10.6M306.6 787.9h15.6M314.4 780.1v15.6M309.1 782.6l10.6 10.6M309.1 793.2l10.6 -10.6M316.4 787.8h15.6M324.2 780.0v15.6M318.9 782.5l10.6 10.6M318.9 793.1l10.6 -10.6M326.3 787.7h15.6M334.1 779.9v15.6M328.8 782.4l10.6 10.6M328.8 793.0l10.6 -10.6M336.3 787.4h15.6M344.1 779.6v15.6M338.8 782.1l10.6 10.6M338.8 792.7l10.6 -10.6M346.3 786.9h15.6M354.1 779.1v15.6M348.8 781.6l10.6 10.6M348.8 792.2l10.6 -10.6M356.5 786.0h15.6M364.3 778.2v15.6M359.0 780.7l10.6 10.6M359.0 791.3l10.6 -10.6M366.7 784.5h15.6M374.5 776.7v15.6M369.2 779.2l10.6 10.6M369.2 789.8l10.6 -10.6M377.1 781.9h15.6M384.9 774.1v15.6M379.6 776.6l10.6 10.6M379.6 787.2l10.6 -10.6M387.5 777.9h15.6M395.3 770.1v15.6M390.0 772.6l10.6 10.6M390.0 783.2l10.6 -10.6M398.0 771.7h15.6M405.8 763.9v15.6M400.5 766.4l10.6 10.6M400.5 777.0l10.6 -10.6M408.6 762.2h15.6M416.4 754.4v15.6M411.1 756.9l10.6 10.6M411.1 767.5l10.6 -10.6M419.3 748.4h15.6M427.1 740.6v15.6M421.8 743.1l10.6 10.6M421.8 753.7l10.6 -10.6M430.2 728.8h15.6M438.0 721.0v15.6M432.7 723.5l10.6 10.6M432.7 734.1l10.6 -10.6M441.1 702.0h15.6M448.9 694.2v15.6M443.6 696.7l10.6 10.6M443.6 707.3l10.6 -10.6M452.1 666.8h15.6M459.9 659.0v15.6M454.6 661.5l10.6 10.6M454.6 672.1l10.6 -10.6M463.2 622.3h15.6M471.0 614.5v15.6M465.7 617.0l10.6 10.6M465.7 627.6l10.6 -10.6M474.4 568.4h15.6M482.2 560.6v15.6M476.9 563.1l10.6 10.6M476.9 573.7l10.6 -10.6M485.7 506.3h15.6M493.5 498.5v15.6M488.2 501.0l10.6 10.6M488.2 511.6l10.6 -10.6M497.1 438.5h15.6M504.9 430.7v15.6M499.6 433.2l10.6 10.6M499.6 443.8l10.6 -10.6M508.6 368.7h15.6M516.4 360.9v15.6M511.1 363.4l10.6 10.6M511.1 374.0l10.6 -10.6M520.3 302.4h15.6M528.1 294.6v15.6M522.8 297.1l10.6 10.6M522.8 307.7l10.6 -10.6M532.0 245.8h15.6M539.8 238.0v15.6M534.5 240.5l10.6 10.6M534.5 251.1l10.6 -10.6M543.8 203.0h15.6M551.6 195.2v15.6M546.3 197.7l10.6 10.6M546.3 208.3l10.6 -10.6M555.7 185.9h15.6M563.5 178.1v15.6M558.2 180.6l10.6 10.6M558.2 191.2l10.6 -10.6M567.8 188.2h15.6M575.6 180.4v15.6M570.3 182.9l10.6 10.6M570.3 193.5l10.6 -10.6M579.9 218.2h15.6M587.7 210.4v15.6M582.4 212.9l10.6 10.6M582.4 223.5l10.6 -10.6M592.2 274.5h15.6M600.0 266.7v15.6M594.7 269.2l10.6 10.6M594.7 279.8l10.6 -10.6M604.6 348.4h15.6M612.4 340.6v15.6M607.1 343.1l10.6 10.6M607.1 353.7l10.6 -10.6M617.1 430.8h15.6M624.9 423.0v15.6M619.6 425.5l10.6 10.6M619.6 436.1l10.6 -10.6M629.7 513.7h15.6M637.5 505.9v15.6M632.2 508.4l10.6 10.6M632.2 519.0l10.6 -10.6M642.4 588.2h15.6M650.2 580.4v15.6M644.9 582.9l10.6 10.6M644.9 593.5l10.6 -10.6M655.2 650.7h15.6M663.0 642.9v15.6M657.7 645.4l10.6 10.6M657.7 656.0l10.6 -10.6M668.2 699.3h15.6M676.0 691.5v15.6M670.7 694.0l10.6 10.6M670.7 704.6l10.6 -10.6M681.2 735.7h15.6M689.0 727.9v15.6M683.7 730.4l10.6 10.6M683.7 741.0l10.6 -10.6M694.4 758.3h15.6M702.2 750.5v15.6M696.9 753.0l10.6 10.6M696.9 763.6l10.6 -10.6M707.7 771.3h15.6M715.5 763.5v15.6M710.2 766.0l10.6 10.6M710.2 776.6l10.6 -10.6M721.1 779.6h15.6M728.9 771.8v15.6M723.6 774.3l10.6 10.6M723.6 784.9l10.6 -10.6M734.7 784.0h15.6M742.5 776.2v15.6M737.2 778.7l10.6 10.6M737.2 789.3l10.6 -10.6M748.3 786.3h15.6M756.1 778.5v15.6M750.8 781.0l10.6 10.6M750.8 791.6l10.6 -10.6M762.1 787.3h15.6M769.9 779.5v15.6M764.6 782.0l10.6 10.6M764.6 792.6l10.6 -10.6M776.0 787.7h15.6M783.8 779.9v15.6M778.5 782.4l10.6 10.6M778.5 793.0l10.6 -10.6M790.1 787.9h15.6M797.9 780.1v15.6M792.6 782.6l10.6 10.6M792.6 793.2l10.6 -10.6M804.2 788.0h15.6M812.0 780.2v15.6M806.7 782.7l10.6 10.6M806.7 793.3l10.6 -10.6M818.5 788.0h15.6M826.3 780.2v15.6M821.0 782.7l10.6 10.6M821.0 793.3l10.6 -10.6M833.0 788.0h15.6M840.8 780.2v15.6M835.5 782.7l10.6 10.6M835.5 793.3l10.6 -10.6M847.5 788.0h15.6M855.3 780.2v15.6M850.0 782.7l10.6 10.6M850.0 793.3l10.6 -10.6M862.2 788.0h15.6M870.0 780.2v15.6M864.7 782.7l10.6 10.6M864.7 793.3l10.6 -10.6M877.0 788.0h15.6M884.8 780.2v15.6M879.5 782.7l10.6 10.6M879.5 793.3l10.6 -10.6M892.0 788.0h15.6M899.8 780.2v15.6M894.5 782.7l10.6 10.6M894.5 793.3l10.6 -10.6" stroke-width="1.6"/></g><g stroke="#A2142F" fill="none"><polyline points="235.8,788.0 244.9,788.0 254.1,788.0 263.3,788.0 272.7,788.0 282.1,788.0 291.6,788.0 301.2,788.0 310.8,787.9 320.6,787.9 330.4,787.8 340.4,787.6 350.4,787.3 360.5,786.7 370.7,785.7 381.0,784.1 391.4,781.4 401.9,777.1 412.5,770.4 423.2,760.5 434.0,746.1 444.8,725.9 455.8,699.0 466.9,663.6 478.0,618.8 489.3,565.0 500.7,504.0 512.2,439.2 523.8,372.5 535.4,306.1 547.2,253.6 559.1,218.4 571.1,203.2 583.3,209.5 595.5,242.0 607.8,297.7 620.3,362.5 632.8,443.7 645.5,523.7 658.3,595.9 671.2,657.5 684.2,703.1 697.3,736.0 710.6,757.9 724.0,771.2 737.5,779.4 751.1,783.9 764.8,786.1 778.7,787.2 792.7,787.7 806.8,787.9 821.1,788.0 835.4,788.0 849.9,788.0 864.6,788.0 879.3,788.0 894.2,788.0" stroke-width="1.3" stroke-linejoin="round"/><path d="M228.0 788.0h15.6M235.8 780.2v15.6M230.5 782.7l10.6 10.6M230.5 793.3l10.6 -10.6M237.1 788.0h15.6M244.9 780.2v15.6M239.6 782.7l10.6 10.6M239.6 793.3l10.6 -10.6M246.3 788.0h15.6M254.1 780.2v15.6M248.8 782.7l10.6 10.6M248.8 793.3l10.6 -10.6M255.5 788.0h15.6M263.3 780.2v15.6M258.0 782.7l10.6 10.6M258.0 793.3l10.6 -10.6M264.9 788.0h15.6M272.7 780.2v15.6M267.4 782.7l10.6 10.6M267.4 793.3l10.6 -10.6M274.3 788.0h15.6M282.1 780.2v15.6M276.8 782.7l10.6 10.6M276.8 793.3l10.6 -10.6M283.8 788.0h15.6M291.6 780.2v15.6M286.3 782.7l10.6 10.6M286.3 793.3l10.6 -10.6M293.4 788.0h15.6M301.2 780.2v15.6M295.9 782.7l10.6 10.6M295.9 793.3l10.6 -10.6M303.0 787.9h15.6M310.8 780.1v15.6M305.5 782.6l10.6 10.6M305.5 793.2l10.6 -10.6M312.8 787.9h15.6M320.6 780.1v15.6M315.3 782.6l10.6 10.6M315.3 793.2l10.6 -10.6M322.6 787.8h15.6M330.4 780.0v15.6M325.1 782.5l10.6 10.6M325.1 793.1l10.6 -10.6M332.6 787.6h15.6M340.4 779.8v15.6M335.1 782.3l10.6 10.6M335.1 792.9l10.6 -10.6M342.6 787.3h15.6M350.4 779.5v15.6M345.1 782.0l10.6 10.6M345.1 792.6l10.6 -10.6M352.7 786.7h15.6M360.5 778.9v15.6M355.2 781.4l10.6 10.6M355.2 792.0l10.6 -10.6M362.9 785.7h15.6M370.7 777.9v15.6M365.4 780.4l10.6 10.6M365.4 791.0l10.6 -10.6M373.2 784.1h15.6M381.0 776.3v15.6M375.7 778.8l10.6 10.6M375.7 789.4l10.6 -10.6M383.6 781.4h15.6M391.4 773.6v15.6M386.1 776.1l10.6 10.6M386.1 786.7l10.6 -10.6M394.1 777.1h15.6M401.9 769.3v15.6M396.6 771.8l10.6 10.6M396.6 782.4l10.6 -10.6M404.7 770.4h15.6M412.5 762.6v15.6M407.2 765.1l10.6 10.6M407.2 775.7l10.6 -10.6M415.4 760.5h15.6M423.2 752.7v15.6M417.9 755.2l10.6 10.6M417.9 765.8l10.6 -10.6M426.2 746.1h15.6M434.0 738.3v15.6M428.7 740.8l10.6 10.6M428.7 751.4l10.6 -10.6M437.0 725.9h15.6M444.8 718.1v15.6M439.5 720.6l10.6 10.6M439.5 731.2l10.6 -10.6M448.0 699.0h15.6M455.8 691.2v15.6M450.5 693.7l10.6 10.6M450.5 704.3l10.6 -10.6M459.1 663.6h15.6M466.9 655.8v15.6M461.6 658.3l10.6 10.6M461.6 668.9l10.6 -10.6M470.2 618.8h15.6M478.0 611.0v15.6M472.7 613.5l10.6 10.6M472.7 624.1l10.6 -10.6M481.5 565.0h15.6M489.3 557.2v15.6M484.0 559.7l10.6 10.6M484.0 570.3l10.6 -10.6M492.9 504.0h15.6M500.7 496.2v15.6M495.4 498.7l10.6 10.6M495.4 509.3l10.6 -10.6M504.4 439.2h15.6M512.2 431.4v15.6M506.9 433.9l10.6 10.6M506.9 444.5l10.6 -10.6M516.0 372.5h15.6M523.8 364.7v15.6M518.5 367.2l10.6 10.6M518.5 377.8l10.6 -10.6M527.6 306.1h15.6M535.4 298.3v15.6M530.1 300.8l10.6 10.6M530.1 311.4l10.6 -10.6M539.4 253.6h15.6M547.2 245.8v15.6M541.9 248.3l10.6 10.6M541.9 258.9l10.6 -10.6M551.3 218.4h15.6M559.1 210.6v15.6M553.8 213.1l10.6 10.6M553.8 223.7l10.6 -10.6M563.3 203.2h15.6M571.1 195.4v15.6M565.8 197.9l10.6 10.6M565.8 208.5l10.6 -10.6M575.5 209.5h15.6M583.3 201.7v15.6M578.0 204.2l10.6 10.6M578.0 214.8l10.6 -10.6M587.7 242.0h15.6M595.5 234.2v15.6M590.2 236.7l10.6 10.6M590.2 247.3l10.6 -10.6M600.0 297.7h15.6M607.8 289.9v15.6M602.5 292.4l10.6 10.6M602.5 303.0l10.6 -10.6M612.5 362.5h15.6M620.3 354.7v15.6M615.0 357.2l10.6 10.6M615.0 367.8l10.6 -10.6M625.0 443.7h15.6M632.8 435.9v15.6M627.5 438.4l10.6 10.6M627.5 449.0l10.6 -10.6M637.7 523.7h15.6M645.5 515.9v15.6M640.2 518.4l10.6 10.6M640.2 529.0l10.6 -10.6M650.5 595.9h15.6M658.3 588.1v15.6M653.0 590.6l10.6 10.6M653.0 601.2l10.6 -10.6M663.4 657.5h15.6M671.2 649.7v15.6M665.9 652.2l10.6 10.6M665.9 662.8l10.6 -10.6M676.4 703.1h15.6M684.2 695.3v15.6M678.9 697.8l10.6 10.6M678.9 708.4l10.6 -10.6M689.5 736.0h15.6M697.3 728.2v15.6M692.0 730.7l10.6 10.6M692.0 741.3l10.6 -10.6M702.8 757.9h15.6M710.6 750.1v15.6M705.3 752.6l10.6 10.6M705.3 763.2l10.6 -10.6M716.2 771.2h15.6M724.0 763.4v15.6M718.7 765.9l10.6 10.6M718.7 776.5l10.6 -10.6M729.7 779.4h15.6M737.5 771.6v15.6M732.2 774.1l10.6 10.6M732.2 784.7l10.6 -10.6M743.3 783.9h15.6M751.1 776.1v15.6M745.8 778.6l10.6 10.6M745.8 789.2l10.6 -10.6M757.0 786.1h15.6M764.8 778.3v15.6M759.5 780.8l10.6 10.6M759.5 791.4l10.6 -10.6M770.9 787.2h15.6M778.7 779.4v15.6M773.4 781.9l10.6 10.6M773.4 792.5l10.6 -10.6M784.9 787.7h15.6M792.7 779.9v15.6M787.4 782.4l10.6 10.6M787.4 793.0l10.6 -10.6M799.0 787.9h15.6M806.8 780.1v15.6M801.5 782.6l10.6 10.6M801.5 793.2l10.6 -10.6M813.3 788.0h15.6M821.1 780.2v15.6M815.8 782.7l10.6 10.6M815.8 793.3l10.6 -10.6M827.6 788.0h15.6M835.4 780.2v15.6M830.1 782.7l10.6 10.6M830.1 793.3l10.6 -10.6M842.1 788.0h15.6M849.9 780.2v15.6M844.6 782.7l10.6 10.6M844.6 793.3l10.6 -10.6M856.8 788.0h15.6M864.6 780.2v15.6M859.3 782.7l10.6 10.6M859.3 793.3l10.6 -10.6M871.5 788.0h15.6M879.3 780.2v15.6M874.0 782.7l10.6 10.6M874.0 793.3l10.6 -10.6M886.4 788.0h15.6M894.2 780.2v15.6M888.9 782.7l10.6 10.6M888.9 793.3l10.6 -10.6" stroke-width="1.6"/></g><g stroke="#0072BD" fill="none"><polyline points="233.9,788.0 243.0,788.0 252.1,788.0 261.3,788.0 270.6,788.0 280.0,788.0 289.5,788.0 299.1,788.0 308.7,788.0 318.5,787.9 328.3,787.9 338.2,787.8 348.2,787.6 358.3,787.2 368.5,786.6 378.8,785.4 389.2,783.5 399.6,780.3 410.2,775.3 420.9,767.4 431.6,755.6 442.5,738.5 453.4,714.3 464.5,682.0 475.6,640.9 486.9,590.4 498.2,530.6 509.7,464.2 521.2,395.7 532.9,329.3 544.7,271.4 556.6,221.6 568.5,201.7 580.6,205.8 592.8,232.3 605.1,278.6 617.6,342.8 630.1,420.6 642.7,501.6 655.5,572.1 668.4,635.2 681.4,687.5 694.5,725.8 707.7,751.0 721.1,766.3 734.5,776.5 748.1,782.3 761.9,785.3 775.7,786.8 789.7,787.5 803.8,787.8 818.0,787.9 832.3,788.0 846.8,788.0 861.4,788.0 876.1,788.0 891.0,788.0" stroke-width="1.3" stroke-linejoin="round"/><path d="M226.1 788.0h15.6M233.9 780.2v15.6M228.6 782.7l10.6 10.6M228.6 793.3l10.6 -10.6M235.2 788.0h15.6M243.0 780.2v15.6M237.7 782.7l10.6 10.6M237.7 793.3l10.6 -10.6M244.3 788.0h15.6M252.1 780.2v15.6M246.8 782.7l10.6 10.6M246.8 793.3l10.6 -10.6M253.5 788.0h15.6M261.3 780.2v15.6M256.0 782.7l10.6 10.6M256.0 793.3l10.6 -10.6M262.8 788.0h15.6M270.6 780.2v15.6M265.3 782.7l10.6 10.6M265.3 793.3l10.6 -10.6M272.2 788.0h15.6M280.0 780.2v15.6M274.7 782.7l10.6 10.6M274.7 793.3l10.6 -10.6M281.7 788.0h15.6M289.5 780.2v15.6M284.2 782.7l10.6 10.6M284.2 793.3l10.6 -10.6M291.3 788.0h15.6M299.1 780.2v15.6M293.8 782.7l10.6 10.6M293.8 793.3l10.6 -10.6M300.9 788.0h15.6M308.7 780.2v15.6M303.4 782.7l10.6 10.6M303.4 793.3l10.6 -10.6M310.7 787.9h15.6M318.5 780.1v15.6M313.2 782.6l10.6 10.6M313.2 793.2l10.6 -10.6M320.5 787.9h15.6M328.3 780.1v15.6M323.0 782.6l10.6 10.6M323.0 793.2l10.6 -10.6M330.4 787.8h15.6M338.2 780.0v15.6M332.9 782.5l10.6 10.6M332.9 793.1l10.6 -10.6M340.4 787.6h15.6M348.2 779.8v15.6M342.9 782.3l10.6 10.6M342.9 792.9l10.6 -10.6M350.5 787.2h15.6M358.3 779.4v15.6M353.0 781.9l10.6 10.6M353.0 792.5l10.6 -10.6M360.7 786.6h15.6M368.5 778.8v15.6M363.2 781.3l10.6 10.6M363.2 791.9l10.6 -10.6M371.0 785.4h15.6M378.8 777.6v15.6M373.5 780.1l10.6 10.6M373.5 790.7l10.6 -10.6M381.4 783.5h15.6M389.2 775.7v15.6M383.9 778.2l10.6 10.6M383.9 788.8l10.6 -10.6M391.8 780.3h15.6M399.6 772.5v15.6M394.3 775.0l10.6 10.6M394.3 785.6l10.6 -10.6M402.4 775.3h15.6M410.2 767.5v15.6M404.9 770.0l10.6 10.6M404.9 780.6l10.6 -10.6M413.1 767.4h15.6M420.9 759.6v15.6M415.6 762.1l10.6 10.6M415.6 772.7l10.6 -10.6M423.8 755.6h15.6M431.6 747.8v15.6M426.3 750.3l10.6 10.6M426.3 760.9l10.6 -10.6M434.7 738.5h15.6M442.5 730.7v15.6M437.2 733.2l10.6 10.6M437.2 743.8l10.6 -10.6M445.6 714.3h15.6M453.4 706.5v15.6M448.1 709.0l10.6 10.6M448.1 719.6l10.6 -10.6M456.7 682.0h15.6M464.5 674.2v15.6M459.2 676.7l10.6 10.6M459.2 687.3l10.6 -10.6M467.8 640.9h15.6M475.6 633.1v15.6M470.3 635.6l10.6 10.6M470.3 646.2l10.6 -10.6M479.1 590.4h15.6M486.9 582.6v15.6M481.6 585.1l10.6 10.6M481.6 595.7l10.6 -10.6M490.4 530.6h15.6M498.2 522.8v15.6M492.9 525.3l10.6 10.6M492.9 535.9l10.6 -10.6M501.9 464.2h15.6M509.7 456.4v15.6M504.4 458.9l10.6 10.6M504.4 469.5l10.6 -10.6M513.4 395.7h15.6M521.2 387.9v15.6M515.9 390.4l10.6 10.6M515.9 401.0l10.6 -10.6M525.1 329.3h15.6M532.9 321.5v15.6M527.6 324.0l10.6 10.6M527.6 334.6l10.6 -10.6M536.9 271.4h15.6M544.7 263.6v15.6M539.4 266.1l10.6 10.6M539.4 276.7l10.6 -10.6M548.8 221.6h15.6M556.6 213.8v15.6M551.3 216.3l10.6 10.6M551.3 226.9l10.6 -10.6M560.7 201.7h15.6M568.5 193.9v15.6M563.2 196.4l10.6 10.6M563.2 207.0l10.6 -10.6M572.8 205.8h15.6M580.6 198.0v15.6M575.3 200.5l10.6 10.6M575.3 211.1l10.6 -10.6M585.0 232.3h15.6M592.8 224.5v15.6M587.5 227.0l10.6 10.6M587.5 237.6l10.6 -10.6M597.3 278.6h15.6M605.1 270.8v15.6M599.8 273.3l10.6 10.6M599.8 283.9l10.6 -10.6M609.8 342.8h15.6M617.6 335.0v15.6M612.3 337.5l10.6 10.6M612.3 348.1l10.6 -10.6M622.3 420.6h15.6M630.1 412.8v15.6M624.8 415.3l10.6 10.6M624.8 425.9l10.6 -10.6M634.9 501.6h15.6M642.7 493.8v15.6M637.4 496.3l10.6 10.6M637.4 506.9l10.6 -10.6M647.7 572.1h15.6M655.5 564.3v15.6M650.2 566.8l10.6 10.6M650.2 577.4l10.6 -10.6M660.6 635.2h15.6M668.4 627.4v15.6M663.1 629.9l10.6 10.6M663.1 640.5l10.6 -10.6M673.6 687.5h15.6M681.4 679.7v15.6M676.1 682.2l10.6 10.6M676.1 692.8l10.6 -10.6M686.7 725.8h15.6M694.5 718.0v15.6M689.2 720.5l10.6 10.6M689.2 731.1l10.6 -10.6M699.9 751.0h15.6M707.7 743.2v15.6M702.4 745.7l10.6 10.6M702.4 756.3l10.6 -10.6M713.3 766.3h15.6M721.1 758.5v15.6M715.8 761.0l10.6 10.6M715.8 771.6l10.6 -10.6M726.7 776.5h15.6M734.5 768.7v15.6M729.2 771.2l10.6 10.6M729.2 781.8l10.6 -10.6M740.3 782.3h15.6M748.1 774.5v15.6M742.8 777.0l10.6 10.6M742.8 787.6l10.6 -10.6M754.1 785.3h15.6M761.9 777.5v15.6M756.6 780.0l10.6 10.6M756.6 790.6l10.6 -10.6M767.9 786.8h15.6M775.7 779.0v15.6M770.4 781.5l10.6 10.6M770.4 792.1l10.6 -10.6M781.9 787.5h15.6M789.7 779.7v15.6M784.4 782.2l10.6 10.6M784.4 792.8l10.6 -10.6M796.0 787.8h15.6M803.8 780.0v15.6M798.5 782.5l10.6 10.6M798.5 793.1l10.6 -10.6M810.2 787.9h15.6M818.0 780.1v15.6M812.7 782.6l10.6 10.6M812.7 793.2l10.6 -10.6M824.5 788.0h15.6M832.3 780.2v15.6M827.0 782.7l10.6 10.6M827.0 793.3l10.6 -10.6M839.0 788.0h15.6M846.8 780.2v15.6M841.5 782.7l10.6 10.6M841.5 793.3l10.6 -10.6M853.6 788.0h15.6M861.4 780.2v15.6M856.1 782.7l10.6 10.6M856.1 793.3l10.6 -10.6M868.3 788.0h15.6M876.1 780.2v15.6M870.8 782.7l10.6 10.6M870.8 793.3l10.6 -10.6M883.2 788.0h15.6M891.0 780.2v15.6M885.7 782.7l10.6 10.6M885.7 793.3l10.6 -10.6" stroke-width="1.6"/></g><g stroke="#D95319" fill="none"><polyline points="232.5,788.0 241.6,788.0 250.7,788.0 259.9,788.0 269.2,788.0 278.6,788.0 288.1,788.0 297.6,788.0 307.3,788.0 317.0,787.9 326.8,787.8 336.7,787.7 346.7,787.4 356.8,786.9 367.0,786.0 377.2,784.6 387.6,782.3 398.0,778.7 408.6,773.0 419.2,764.5 430.0,752.1 440.8,734.6 451.7,710.9 462.8,679.6 473.9,640.3 485.1,592.0 496.5,535.8 507.9,474.3 519.5,410.1 531.1,347.9 542.9,291.6 554.7,252.6 566.7,226.1 578.8,221.3 591.0,242.7 603.2,283.0 615.7,340.5 628.2,407.1 640.8,473.4 653.5,548.9 666.4,614.4 679.4,668.7 692.5,710.0 705.7,738.8 719.0,758.7 732.5,771.0 746.0,778.9 759.7,783.4 773.6,785.8 787.5,787.0 801.6,787.6 815.8,787.8 830.1,787.9 844.6,788.0 859.2,788.0 873.9,788.0 888.7,788.0" stroke-width="1.3" stroke-linejoin="round"/><path d="M224.7 788.0h15.6M232.5 780.2v15.6M227.2 782.7l10.6 10.6M227.2 793.3l10.6 -10.6M233.8 788.0h15.6M241.6 780.2v15.6M236.3 782.7l10.6 10.6M236.3 793.3l10.6 -10.6M242.9 788.0h15.6M250.7 780.2v15.6M245.4 782.7l10.6 10.6M245.4 793.3l10.6 -10.6M252.1 788.0h15.6M259.9 780.2v15.6M254.6 782.7l10.6 10.6M254.6 793.3l10.6 -10.6M261.4 788.0h15.6M269.2 780.2v15.6M263.9 782.7l10.6 10.6M263.9 793.3l10.6 -10.6M270.8 788.0h15.6M278.6 780.2v15.6M273.3 782.7l10.6 10.6M273.3 793.3l10.6 -10.6M280.3 788.0h15.6M288.1 780.2v15.6M282.8 782.7l10.6 10.6M282.8 793.3l10.6 -10.6M289.8 788.0h15.6M297.6 780.2v15.6M292.3 782.7l10.6 10.6M292.3 793.3l10.6 -10.6M299.5 788.0h15.6M307.3 780.2v15.6M302.0 782.7l10.6 10.6M302.0 793.3l10.6 -10.6M309.2 787.9h15.6M317.0 780.1v15.6M311.7 782.6l10.6 10.6M311.7 793.2l10.6 -10.6M319.0 787.8h15.6M326.8 780.0v15.6M321.5 782.5l10.6 10.6M321.5 793.1l10.6 -10.6M328.9 787.7h15.6M336.7 779.9v15.6M331.4 782.4l10.6 10.6M331.4 793.0l10.6 -10.6M338.9 787.4h15.6M346.7 779.6v15.6M341.4 782.1l10.6 10.6M341.4 792.7l10.6 -10.6M349.0 786.9h15.6M356.8 779.1v15.6M351.5 781.6l10.6 10.6M351.5 792.2l10.6 -10.6M359.2 786.0h15.6M367.0 778.2v15.6M361.7 780.7l10.6 10.6M361.7 791.3l10.6 -10.6M369.4 784.6h15.6M377.2 776.8v15.6M371.9 779.3l10.6 10.6M371.9 789.9l10.6 -10.6M379.8 782.3h15.6M387.6 774.5v15.6M382.3 777.0l10.6 10.6M382.3 787.6l10.6 -10.6M390.2 778.7h15.6M398.0 770.9v15.6M392.7 773.4l10.6 10.6M392.7 784.0l10.6 -10.6M400.8 773.0h15.6M408.6 765.2v15.6M403.3 767.7l10.6 10.6M403.3 778.3l10.6 -10.6M411.4 764.5h15.6M419.2 756.7v15.6M413.9 759.2l10.6 10.6M413.9 769.8l10.6 -10.6M422.2 752.1h15.6M430.0 744.3v15.6M424.7 746.8l10.6 10.6M424.7 757.4l10.6 -10.6M433.0 734.6h15.6M440.8 726.8v15.6M435.5 729.3l10.6 10.6M435.5 739.9l10.6 -10.6M443.9 710.9h15.6M451.7 703.1v15.6M446.4 705.6l10.6 10.6M446.4 716.2l10.6 -10.6M455.0 679.6h15.6M462.8 671.8v15.6M457.5 674.3l10.6 10.6M457.5 684.9l10.6 -10.6M466.1 640.3h15.6M473.9 632.5v15.6M468.6 635.0l10.6 10.6M468.6 645.6l10.6 -10.6M477.3 592.0h15.6M485.1 584.2v15.6M479.8 586.7l10.6 10.6M479.8 597.3l10.6 -10.6M488.7 535.8h15.6M496.5 528.0v15.6M491.2 530.5l10.6 10.6M491.2 541.1l10.6 -10.6M500.1 474.3h15.6M507.9 466.5v15.6M502.6 469.0l10.6 10.6M502.6 479.6l10.6 -10.6M511.7 410.1h15.6M519.5 402.3v15.6M514.2 404.8l10.6 10.6M514.2 415.4l10.6 -10.6M523.3 347.9h15.6M531.1 340.1v15.6M525.8 342.6l10.6 10.6M525.8 353.2l10.6 -10.6M535.1 291.6h15.6M542.9 283.8v15.6M537.6 286.3l10.6 10.6M537.6 296.9l10.6 -10.6M546.9 252.6h15.6M554.7 244.8v15.6M549.4 247.3l10.6 10.6M549.4 257.9l10.6 -10.6M558.9 226.1h15.6M566.7 218.3v15.6M561.4 220.8l10.6 10.6M561.4 231.4l10.6 -10.6M571.0 221.3h15.6M578.8 213.5v15.6M573.5 216.0l10.6 10.6M573.5 226.6l10.6 -10.6M583.2 242.7h15.6M591.0 234.9v15.6M585.7 237.4l10.6 10.6M585.7 248.0l10.6 -10.6M595.4 283.0h15.6M603.2 275.2v15.6M597.9 277.7l10.6 10.6M597.9 288.3l10.6 -10.6M607.9 340.5h15.6M615.7 332.7v15.6M610.4 335.2l10.6 10.6M610.4 345.8l10.6 -10.6M620.4 407.1h15.6M628.2 399.3v15.6M622.9 401.8l10.6 10.6M622.9 412.4l10.6 -10.6M633.0 473.4h15.6M640.8 465.6v15.6M635.5 468.1l10.6 10.6M635.5 478.7l10.6 -10.6M645.7 548.9h15.6M653.5 541.1v15.6M648.2 543.6l10.6 10.6M648.2 554.2l10.6 -10.6M658.6 614.4h15.6M666.4 606.6v15.6M661.1 609.1l10.6 10.6M661.1 619.7l10.6 -10.6M671.6 668.7h15.6M679.4 660.9v15.6M674.1 663.4l10.6 10.6M674.1 674.0l10.6 -10.6M684.7 710.0h15.6M692.5 702.2v15.6M687.2 704.7l10.6 10.6M687.2 715.3l10.6 -10.6M697.9 738.8h15.6M705.7 731.0v15.6M700.4 733.5l10.6 10.6M700.4 744.1l10.6 -10.6M711.2 758.7h15.6M719.0 750.9v15.6M713.7 753.4l10.6 10.6M713.7 764.0l10.6 -10.6M724.7 771.0h15.6M732.5 763.2v15.6M727.2 765.7l10.6 10.6M727.2 776.3l10.6 -10.6M738.2 778.9h15.6M746.0 771.1v15.6M740.7 773.6l10.6 10.6M740.7 784.2l10.6 -10.6M751.9 783.4h15.6M759.7 775.6v15.6M754.4 778.1l10.6 10.6M754.4 788.7l10.6 -10.6M765.8 785.8h15.6M773.6 778.0v15.6M768.3 780.5l10.6 10.6M768.3 791.1l10.6 -10.6M779.7 787.0h15.6M787.5 779.2v15.6M782.2 781.7l10.6 10.6M782.2 792.3l10.6 -10.6M793.8 787.6h15.6M801.6 779.8v15.6M796.3 782.3l10.6 10.6M796.3 792.9l10.6 -10.6M808.0 787.8h15.6M815.8 780.0v15.6M810.5 782.5l10.6 10.6M810.5 793.1l10.6 -10.6M822.3 787.9h15.6M830.1 780.1v15.6M824.8 782.6l10.6 10.6M824.8 793.2l10.6 -10.6M836.8 788.0h15.6M844.6 780.2v15.6M839.3 782.7l10.6 10.6M839.3 793.3l10.6 -10.6M851.4 788.0h15.6M859.2 780.2v15.6M853.9 782.7l10.6 10.6M853.9 793.3l10.6 -10.6M866.1 788.0h15.6M873.9 780.2v15.6M868.6 782.7l10.6 10.6M868.6 793.3l10.6 -10.6M880.9 788.0h15.6M888.7 780.2v15.6M883.4 782.7l10.6 10.6M883.4 793.3l10.6 -10.6" stroke-width="1.6"/></g><g stroke="#EDB120" fill="none"><polyline points="228.6,788.0 237.6,788.0 246.7,788.0 255.9,788.0 265.2,788.0 274.5,788.0 284.0,788.0 293.5,788.0 303.1,787.9 312.8,787.9 322.6,787.8 332.4,787.6 342.4,787.4 352.4,786.9 362.6,786.1 372.8,784.7 383.1,782.5 393.5,779.2 404.0,774.0 414.6,766.3 425.3,755.2 436.1,739.7 447.0,718.6 458.0,690.4 469.1,655.0 480.3,612.4 491.6,562.5 503.0,506.3 514.5,447.6 526.1,388.3 537.8,332.0 549.6,285.0 561.5,252.8 573.5,237.6 585.7,246.7 597.9,274.0 610.3,317.4 622.8,378.2 635.3,445.0 648.0,514.0 660.8,580.5 673.8,638.2 686.8,685.9 700.0,721.8 713.3,746.9 726.7,763.1 740.2,774.1 753.8,780.7 767.6,784.4 781.5,786.3 795.5,787.2 809.6,787.7 823.9,787.9 838.3,788.0 852.8,788.0 867.5,788.0 882.3,788.0" stroke-width="1.3" stroke-linejoin="round"/><path d="M220.8 788.0h15.6M228.6 780.2v15.6M223.3 782.7l10.6 10.6M223.3 793.3l10.6 -10.6M229.8 788.0h15.6M237.6 780.2v15.6M232.3 782.7l10.6 10.6M232.3 793.3l10.6 -10.6M238.9 788.0h15.6M246.7 780.2v15.6M241.4 782.7l10.6 10.6M241.4 793.3l10.6 -10.6M248.1 788.0h15.6M255.9 780.2v15.6M250.6 782.7l10.6 10.6M250.6 793.3l10.6 -10.6M257.4 788.0h15.6M265.2 780.2v15.6M259.9 782.7l10.6 10.6M259.9 793.3l10.6 -10.6M266.7 788.0h15.6M274.5 780.2v15.6M269.2 782.7l10.6 10.6M269.2 793.3l10.6 -10.6M276.2 788.0h15.6M284.0 780.2v15.6M278.7 782.7l10.6 10.6M278.7 793.3l10.6 -10.6M285.7 788.0h15.6M293.5 780.2v15.6M288.2 782.7l10.6 10.6M288.2 793.3l10.6 -10.6M295.3 787.9h15.6M303.1 780.1v15.6M297.8 782.6l10.6 10.6M297.8 793.2l10.6 -10.6M305.0 787.9h15.6M312.8 780.1v15.6M307.5 782.6l10.6 10.6M307.5 793.2l10.6 -10.6M314.8 787.8h15.6M322.6 780.0v15.6M317.3 782.5l10.6 10.6M317.3 793.1l10.6 -10.6M324.6 787.6h15.6M332.4 779.8v15.6M327.1 782.3l10.6 10.6M327.1 792.9l10.6 -10.6M334.6 787.4h15.6M342.4 779.6v15.6M337.1 782.1l10.6 10.6M337.1 792.7l10.6 -10.6M344.6 786.9h15.6M352.4 779.1v15.6M347.1 781.6l10.6 10.6M347.1 792.2l10.6 -10.6M354.8 786.1h15.6M362.6 778.3v15.6M357.3 780.8l10.6 10.6M357.3 791.4l10.6 -10.6M365.0 784.7h15.6M372.8 776.9v15.6M367.5 779.4l10.6 10.6M367.5 790.0l10.6 -10.6M375.3 782.5h15.6M383.1 774.7v15.6M377.8 777.2l10.6 10.6M377.8 787.8l10.6 -10.6M385.7 779.2h15.6M393.5 771.4v15.6M388.2 773.9l10.6 10.6M388.2 784.5l10.6 -10.6M396.2 774.0h15.6M404.0 766.2v15.6M398.7 768.7l10.6 10.6M398.7 779.3l10.6 -10.6M406.8 766.3h15.6M414.6 758.5v15.6M409.3 761.0l10.6 10.6M409.3 771.6l10.6 -10.6M417.5 755.2h15.6M425.3 747.4v15.6M420.0 749.9l10.6 10.6M420.0 760.5l10.6 -10.6M428.3 739.7h15.6M436.1 731.9v15.6M430.8 734.4l10.6 10.6M430.8 745.0l10.6 -10.6M439.2 718.6h15.6M447.0 710.8v15.6M441.7 713.3l10.6 10.6M441.7 723.9l10.6 -10.6M450.2 690.4h15.6M458.0 682.6v15.6M452.7 685.1l10.6 10.6M452.7 695.7l10.6 -10.6M461.3 655.0h15.6M469.1 647.2v15.6M463.8 649.7l10.6 10.6M463.8 660.3l10.6 -10.6M472.5 612.4h15.6M480.3 604.6v15.6M475.0 607.1l10.6 10.6M475.0 617.7l10.6 -10.6M483.8 562.5h15.6M491.6 554.7v15.6M486.3 557.2l10.6 10.6M486.3 567.8l10.6 -10.6M495.2 506.3h15.6M503.0 498.5v15.6M497.7 501.0l10.6 10.6M497.7 511.6l10.6 -10.6M506.7 447.6h15.6M514.5 439.8v15.6M509.2 442.3l10.6 10.6M509.2 452.9l10.6 -10.6M518.3 388.3h15.6M526.1 380.5v15.6M520.8 383.0l10.6 10.6M520.8 393.6l10.6 -10.6M530.0 332.0h15.6M537.8 324.2v15.6M532.5 326.7l10.6 10.6M532.5 337.3l10.6 -10.6M541.8 285.0h15.6M549.6 277.2v15.6M544.3 279.7l10.6 10.6M544.3 290.3l10.6 -10.6M553.7 252.8h15.6M561.5 245.0v15.6M556.2 247.5l10.6 10.6M556.2 258.1l10.6 -10.6M565.7 237.6h15.6M573.5 229.8v15.6M568.2 232.3l10.6 10.6M568.2 242.9l10.6 -10.6M577.9 246.7h15.6M585.7 238.9v15.6M580.4 241.4l10.6 10.6M580.4 252.0l10.6 -10.6M590.1 274.0h15.6M597.9 266.2v15.6M592.6 268.7l10.6 10.6M592.6 279.3l10.6 -10.6M602.5 317.4h15.6M610.3 309.6v15.6M605.0 312.1l10.6 10.6M605.0 322.7l10.6 -10.6M615.0 378.2h15.6M622.8 370.4v15.6M617.5 372.9l10.6 10.6M617.5 383.5l10.6 -10.6M627.5 445.0h15.6M635.3 437.2v15.6M630.0 439.7l10.6 10.6M630.0 450.3l10.6 -10.6M640.2 514.0h15.6M648.0 506.2v15.6M642.7 508.7l10.6 10.6M642.7 519.3l10.6 -10.6M653.0 580.5h15.6M660.8 572.7v15.6M655.5 575.2l10.6 10.6M655.5 585.8l10.6 -10.6M666.0 638.2h15.6M673.8 630.4v15.6M668.5 632.9l10.6 10.6M668.5 643.5l10.6 -10.6M679.0 685.9h15.6M686.8 678.1v15.6M681.5 680.6l10.6 10.6M681.5 691.2l10.6 -10.6M692.2 721.8h15.6M700.0 714.0v15.6M694.7 716.5l10.6 10.6M694.7 727.1l10.6 -10.6M705.5 746.9h15.6M713.3 739.1v15.6M708.0 741.6l10.6 10.6M708.0 752.2l10.6 -10.6M718.9 763.1h15.6M726.7 755.3v15.6M721.4 757.8l10.6 10.6M721.4 768.4l10.6 -10.6M732.4 774.1h15.6M740.2 766.3v15.6M734.9 768.8l10.6 10.6M734.9 779.4l10.6 -10.6M746.0 780.7h15.6M753.8 772.9v15.6M748.5 775.4l10.6 10.6M748.5 786.0l10.6 -10.6M759.8 784.4h15.6M767.6 776.6v15.6M762.3 779.1l10.6 10.6M762.3 789.7l10.6 -10.6M773.7 786.3h15.6M781.5 778.5v15.6M776.2 781.0l10.6 10.6M776.2 791.6l10.6 -10.6M787.7 787.2h15.6M795.5 779.4v15.6M790.2 781.9l10.6 10.6M790.2 792.5l10.6 -10.6M801.8 787.7h15.6M809.6 779.9v15.6M804.3 782.4l10.6 10.6M804.3 793.0l10.6 -10.6M816.1 787.9h15.6M823.9 780.1v15.6M818.6 782.6l10.6 10.6M818.6 793.2l10.6 -10.6M830.5 788.0h15.6M838.3 780.2v15.6M833.0 782.7l10.6 10.6M833.0 793.3l10.6 -10.6M845.0 788.0h15.6M852.8 780.2v15.6M847.5 782.7l10.6 10.6M847.5 793.3l10.6 -10.6M859.7 788.0h15.6M867.5 780.2v15.6M862.2 782.7l10.6 10.6M862.2 793.3l10.6 -10.6M874.5 788.0h15.6M882.3 780.2v15.6M877.0 782.7l10.6 10.6M877.0 793.3l10.6 -10.6" stroke-width="1.6"/></g><g stroke="#7E2F8E" fill="none"><polyline points="225.9,788.0 234.9,788.0 243.9,788.0 253.1,788.0 262.3,788.0 271.7,788.0 281.1,788.0 290.6,787.9 300.1,787.9 309.8,787.8 319.5,787.7 329.4,787.4 339.3,787.0 349.3,786.4 359.4,785.3 369.6,783.7 379.9,781.1 390.3,777.2 400.8,771.4 411.4,763.2 422.0,751.6 432.8,735.7 443.7,714.6 454.6,687.7 465.7,655.4 476.9,615.0 488.1,567.8 499.5,516.4 510.9,462.1 522.5,406.4 534.2,355.4 546.0,315.4 557.9,285.0 569.8,267.9 582.0,268.8 594.2,286.6 606.5,325.2 618.9,374.4 631.5,432.2 644.1,492.0 656.9,550.7 669.8,609.8 682.8,659.0 695.9,699.6 709.2,730.6 722.5,751.7 736.0,765.0 749.6,774.7 763.4,780.7 777.2,784.2 791.2,786.1 805.3,787.1 819.5,787.6 833.9,787.8 848.4,787.9 863.0,788.0 877.8,788.0" stroke-width="1.3" stroke-linejoin="round"/><path d="M218.1 788.0h15.6M225.9 780.2v15.6M220.6 782.7l10.6 10.6M220.6 793.3l10.6 -10.6M227.1 788.0h15.6M234.9 780.2v15.6M229.6 782.7l10.6 10.6M229.6 793.3l10.6 -10.6M236.1 788.0h15.6M243.9 780.2v15.6M238.6 782.7l10.6 10.6M238.6 793.3l10.6 -10.6M245.3 788.0h15.6M253.1 780.2v15.6M247.8 782.7l10.6 10.6M247.8 793.3l10.6 -10.6M254.5 788.0h15.6M262.3 780.2v15.6M257.0 782.7l10.6 10.6M257.0 793.3l10.6 -10.6M263.9 788.0h15.6M271.7 780.2v15.6M266.4 782.7l10.6 10.6M266.4 793.3l10.6 -10.6M273.3 788.0h15.6M281.1 780.2v15.6M275.8 782.7l10.6 10.6M275.8 793.3l10.6 -10.6M282.8 787.9h15.6M290.6 780.1v15.6M285.3 782.6l10.6 10.6M285.3 793.2l10.6 -10.6M292.3 787.9h15.6M300.1 780.1v15.6M294.8 782.6l10.6 10.6M294.8 793.2l10.6 -10.6M302.0 787.8h15.6M309.8 780.0v15.6M304.5 782.5l10.6 10.6M304.5 793.1l10.6 -10.6M311.7 787.7h15.6M319.5 779.9v15.6M314.2 782.4l10.6 10.6M314.2 793.0l10.6 -10.6M321.6 787.4h15.6M329.4 779.6v15.6M324.1 782.1l10.6 10.6M324.1 792.7l10.6 -10.6M331.5 787.0h15.6M339.3 779.2v15.6M334.0 781.7l10.6 10.6M334.0 792.3l10.6 -10.6M341.5 786.4h15.6M349.3 778.6v15.6M344.0 781.1l10.6 10.6M344.0 791.7l10.6 -10.6M351.6 785.3h15.6M359.4 777.5v15.6M354.1 780.0l10.6 10.6M354.1 790.6l10.6 -10.6M361.8 783.7h15.6M369.6 775.9v15.6M364.3 778.4l10.6 10.6M364.3 789.0l10.6 -10.6M372.1 781.1h15.6M379.9 773.3v15.6M374.6 775.8l10.6 10.6M374.6 786.4l10.6 -10.6M382.5 777.2h15.6M390.3 769.4v15.6M385.0 771.9l10.6 10.6M385.0 782.5l10.6 -10.6M393.0 771.4h15.6M400.8 763.6v15.6M395.5 766.1l10.6 10.6M395.5 776.7l10.6 -10.6M403.6 763.2h15.6M411.4 755.4v15.6M406.1 757.9l10.6 10.6M406.1 768.5l10.6 -10.6M414.2 751.6h15.6M422.0 743.8v15.6M416.7 746.3l10.6 10.6M416.7 756.9l10.6 -10.6M425.0 735.7h15.6M432.8 727.9v15.6M427.5 730.4l10.6 10.6M427.5 741.0l10.6 -10.6M435.9 714.6h15.6M443.7 706.8v15.6M438.4 709.3l10.6 10.6M438.4 719.9l10.6 -10.6M446.8 687.7h15.6M454.6 679.9v15.6M449.3 682.4l10.6 10.6M449.3 693.0l10.6 -10.6M457.9 655.4h15.6M465.7 647.6v15.6M460.4 650.1l10.6 10.6M460.4 660.7l10.6 -10.6M469.1 615.0h15.6M476.9 607.2v15.6M471.6 609.7l10.6 10.6M471.6 620.3l10.6 -10.6M480.3 567.8h15.6M488.1 560.0v15.6M482.8 562.5l10.6 10.6M482.8 573.1l10.6 -10.6M491.7 516.4h15.6M499.5 508.6v15.6M494.2 511.1l10.6 10.6M494.2 521.7l10.6 -10.6M503.1 462.1h15.6M510.9 454.3v15.6M505.6 456.8l10.6 10.6M505.6 467.4l10.6 -10.6M514.7 406.4h15.6M522.5 398.6v15.6M517.2 401.1l10.6 10.6M517.2 411.7l10.6 -10.6M526.4 355.4h15.6M534.2 347.6v15.6M528.9 350.1l10.6 10.6M528.9 360.7l10.6 -10.6M538.2 315.4h15.6M546.0 307.6v15.6M540.7 310.1l10.6 10.6M540.7 320.7l10.6 -10.6M550.1 285.0h15.6M557.9 277.2v15.6M552.6 279.7l10.6 10.6M552.6 290.3l10.6 -10.6M562.0 267.9h15.6M569.8 260.1v15.6M564.5 262.6l10.6 10.6M564.5 273.2l10.6 -10.6M574.2 268.8h15.6M582.0 261.0v15.6M576.7 263.5l10.6 10.6M576.7 274.1l10.6 -10.6M586.4 286.6h15.6M594.2 278.8v15.6M588.9 281.3l10.6 10.6M588.9 291.9l10.6 -10.6M598.7 325.2h15.6M606.5 317.4v15.6M601.2 319.9l10.6 10.6M601.2 330.5l10.6 -10.6M611.1 374.4h15.6M618.9 366.6v15.6M613.6 369.1l10.6 10.6M613.6 379.7l10.6 -10.6M623.7 432.2h15.6M631.5 424.4v15.6M626.2 426.9l10.6 10.6M626.2 437.5l10.6 -10.6M636.3 492.0h15.6M644.1 484.2v15.6M638.8 486.7l10.6 10.6M638.8 497.3l10.6 -10.6M649.1 550.7h15.6M656.9 542.9v15.6M651.6 545.4l10.6 10.6M651.6 556.0l10.6 -10.6M662.0 609.8h15.6M669.8 602.0v15.6M664.5 604.5l10.6 10.6M664.5 615.1l10.6 -10.6M675.0 659.0h15.6M682.8 651.2v15.6M677.5 653.7l10.6 10.6M677.5 664.3l10.6 -10.6M688.1 699.6h15.6M695.9 691.8v15.6M690.6 694.3l10.6 10.6M690.6 704.9l10.6 -10.6M701.4 730.6h15.6M709.2 722.8v15.6M703.9 725.3l10.6 10.6M703.9 735.9l10.6 -10.6M714.7 751.7h15.6M722.5 743.9v15.6M717.2 746.4l10.6 10.6M717.2 757.0l10.6 -10.6M728.2 765.0h15.6M736.0 757.2v15.6M730.7 759.7l10.6 10.6M730.7 770.3l10.6 -10.6M741.8 774.7h15.6M749.6 766.9v15.6M744.3 769.4l10.6 10.6M744.3 780.0l10.6 -10.6M755.6 780.7h15.6M763.4 772.9v15.6M758.1 775.4l10.6 10.6M758.1 786.0l10.6 -10.6M769.4 784.2h15.6M777.2 776.4v15.6M771.9 778.9l10.6 10.6M771.9 789.5l10.6 -10.6M783.4 786.1h15.6M791.2 778.3v15.6M785.9 780.8l10.6 10.6M785.9 791.4l10.6 -10.6M797.5 787.1h15.6M805.3 779.3v15.6M800.0 781.8l10.6 10.6M800.0 792.4l10.6 -10.6M811.7 787.6h15.6M819.5 779.8v15.6M814.2 782.3l10.6 10.6M814.2 792.9l10.6 -10.6M826.1 787.8h15.6M833.9 780.0v15.6M828.6 782.5l10.6 10.6M828.6 793.1l10.6 -10.6M840.6 787.9h15.6M848.4 780.1v15.6M843.1 782.6l10.6 10.6M843.1 793.2l10.6 -10.6M855.2 788.0h15.6M863.0 780.2v15.6M857.7 782.7l10.6 10.6M857.7 793.3l10.6 -10.6M870.0 788.0h15.6M877.8 780.2v15.6M872.5 782.7l10.6 10.6M872.5 793.3l10.6 -10.6" stroke-width="1.6"/></g><g stroke="#77AC30" fill="none"><polyline points="222.6,788.0 231.5,788.0 240.6,788.0 249.7,788.0 258.9,788.0 268.2,788.0 277.6,787.9 287.0,787.9 296.6,787.8 306.2,787.7 315.9,787.5 325.7,787.2 335.6,786.6 345.6,785.8 355.7,784.5 365.9,782.5 376.1,779.6 386.5,775.3 396.9,769.1 407.5,760.5 418.1,748.8 428.8,733.2 439.6,712.9 450.6,687.2 461.6,655.8 472.7,618.5 483.9,575.7 495.3,528.5 506.7,478.5 518.2,428.2 529.9,380.1 541.6,338.2 553.5,305.7 565.4,286.6 577.5,280.6 589.6,291.6 601.9,318.0 614.3,359.1 626.8,408.7 639.4,470.6 652.2,530.0 665.0,586.8 678.0,636.3 691.1,677.0 704.3,714.4 717.6,739.8 731.0,757.0 744.6,769.4 758.3,777.4 772.1,782.2 786.0,785.0 800.1,786.5 814.3,787.3 828.6,787.7 843.0,787.9 857.6,788.0 872.3,788.0" stroke-width="1.3" stroke-linejoin="round"/><path d="M214.8 788.0h15.6M222.6 780.2v15.6M217.3 782.7l10.6 10.6M217.3 793.3l10.6 -10.6M223.7 788.0h15.6M231.5 780.2v15.6M226.2 782.7l10.6 10.6M226.2 793.3l10.6 -10.6M232.8 788.0h15.6M240.6 780.2v15.6M235.3 782.7l10.6 10.6M235.3 793.3l10.6 -10.6M241.9 788.0h15.6M249.7 780.2v15.6M244.4 782.7l10.6 10.6M244.4 793.3l10.6 -10.6M251.1 788.0h15.6M258.9 780.2v15.6M253.6 782.7l10.6 10.6M253.6 793.3l10.6 -10.6M260.4 788.0h15.6M268.2 780.2v15.6M262.9 782.7l10.6 10.6M262.9 793.3l10.6 -10.6M269.8 787.9h15.6M277.6 780.1v15.6M272.3 782.6l10.6 10.6M272.3 793.2l10.6 -10.6M279.2 787.9h15.6M287.0 780.1v15.6M281.7 782.6l10.6 10.6M281.7 793.2l10.6 -10.6M288.8 787.8h15.6M296.6 780.0v15.6M291.3 782.5l10.6 10.6M291.3 793.1l10.6 -10.6M298.4 787.7h15.6M306.2 779.9v15.6M300.9 782.4l10.6 10.6M300.9 793.0l10.6 -10.6M308.1 787.5h15.6M315.9 779.7v15.6M310.6 782.2l10.6 10.6M310.6 792.8l10.6 -10.6M317.9 787.2h15.6M325.7 779.4v15.6M320.4 781.9l10.6 10.6M320.4 792.5l10.6 -10.6M327.8 786.6h15.6M335.6 778.8v15.6M330.3 781.3l10.6 10.6M330.3 791.9l10.6 -10.6M337.8 785.8h15.6M345.6 778.0v15.6M340.3 780.5l10.6 10.6M340.3 791.1l10.6 -10.6M347.9 784.5h15.6M355.7 776.7v15.6M350.4 779.2l10.6 10.6M350.4 789.8l10.6 -10.6M358.1 782.5h15.6M365.9 774.7v15.6M360.6 777.2l10.6 10.6M360.6 787.8l10.6 -10.6M368.3 779.6h15.6M376.1 771.8v15.6M370.8 774.3l10.6 10.6M370.8 784.9l10.6 -10.6M378.7 775.3h15.6M386.5 767.5v15.6M381.2 770.0l10.6 10.6M381.2 780.6l10.6 -10.6M389.1 769.1h15.6M396.9 761.3v15.6M391.6 763.8l10.6 10.6M391.6 774.4l10.6 -10.6M399.7 760.5h15.6M407.5 752.7v15.6M402.2 755.2l10.6 10.6M402.2 765.8l10.6 -10.6M410.3 748.8h15.6M418.1 741.0v15.6M412.8 743.5l10.6 10.6M412.8 754.1l10.6 -10.6M421.0 733.2h15.6M428.8 725.4v15.6M423.5 727.9l10.6 10.6M423.5 738.5l10.6 -10.6M431.8 712.9h15.6M439.6 705.1v15.6M434.3 707.6l10.6 10.6M434.3 718.2l10.6 -10.6M442.8 687.2h15.6M450.6 679.4v15.6M445.3 681.9l10.6 10.6M445.3 692.5l10.6 -10.6M453.8 655.8h15.6M461.6 648.0v15.6M456.3 650.5l10.6 10.6M456.3 661.1l10.6 -10.6M464.9 618.5h15.6M472.7 610.7v15.6M467.4 613.2l10.6 10.6M467.4 623.8l10.6 -10.6M476.1 575.7h15.6M483.9 567.9v15.6M478.6 570.4l10.6 10.6M478.6 581.0l10.6 -10.6M487.5 528.5h15.6M495.3 520.7v15.6M490.0 523.2l10.6 10.6M490.0 533.8l10.6 -10.6M498.9 478.5h15.6M506.7 470.7v15.6M501.4 473.2l10.6 10.6M501.4 483.8l10.6 -10.6M510.4 428.2h15.6M518.2 420.4v15.6M512.9 422.9l10.6 10.6M512.9 433.5l10.6 -10.6M522.1 380.1h15.6M529.9 372.3v15.6M524.6 374.8l10.6 10.6M524.6 385.4l10.6 -10.6M533.8 338.2h15.6M541.6 330.4v15.6M536.3 332.9l10.6 10.6M536.3 343.5l10.6 -10.6M545.7 305.7h15.6M553.5 297.9v15.6M548.2 300.4l10.6 10.6M548.2 311.0l10.6 -10.6M557.6 286.6h15.6M565.4 278.8v15.6M560.1 281.3l10.6 10.6M560.1 291.9l10.6 -10.6M569.7 280.6h15.6M577.5 272.8v15.6M572.2 275.3l10.6 10.6M572.2 285.9l10.6 -10.6M581.8 291.6h15.6M589.6 283.8v15.6M584.3 286.3l10.6 10.6M584.3 296.9l10.6 -10.6M594.1 318.0h15.6M601.9 310.2v15.6M596.6 312.7l10.6 10.6M596.6 323.3l10.6 -10.6M606.5 359.1h15.6M614.3 351.3v15.6M609.0 353.8l10.6 10.6M609.0 364.4l10.6 -10.6M619.0 408.7h15.6M626.8 400.9v15.6M621.5 403.4l10.6 10.6M621.5 414.0l10.6 -10.6M631.6 470.6h15.6M639.4 462.8v15.6M634.1 465.3l10.6 10.6M634.1 475.9l10.6 -10.6M644.4 530.0h15.6M652.2 522.2v15.6M646.9 524.7l10.6 10.6M646.9 535.3l10.6 -10.6M657.2 586.8h15.6M665.0 579.0v15.6M659.7 581.5l10.6 10.6M659.7 592.1l10.6 -10.6M670.2 636.3h15.6M678.0 628.5v15.6M672.7 631.0l10.6 10.6M672.7 641.6l10.6 -10.6M683.3 677.0h15.6M691.1 669.2v15.6M685.8 671.7l10.6 10.6M685.8 682.3l10.6 -10.6M696.5 714.4h15.6M704.3 706.6v15.6M699.0 709.1l10.6 10.6M699.0 719.7l10.6 -10.6M709.8 739.8h15.6M717.6 732.0v15.6M712.3 734.5l10.6 10.6M712.3 745.1l10.6 -10.6M723.2 757.0h15.6M731.0 749.2v15.6M725.7 751.7l10.6 10.6M725.7 762.3l10.6 -10.6M736.8 769.4h15.6M744.6 761.6v15.6M739.3 764.1l10.6 10.6M739.3 774.7l10.6 -10.6M750.5 777.4h15.6M758.3 769.6v15.6M753.0 772.1l10.6 10.6M753.0 782.7l10.6 -10.6M764.3 782.2h15.6M772.1 774.4v15.6M766.8 776.9l10.6 10.6M766.8 787.5l10.6 -10.6M778.2 785.0h15.6M786.0 777.2v15.6M780.7 779.7l10.6 10.6M780.7 790.3l10.6 -10.6M792.3 786.5h15.6M800.1 778.7v15.6M794.8 781.2l10.6 10.6M794.8 791.8l10.6 -10.6M806.5 787.3h15.6M814.3 779.5v15.6M809.0 782.0l10.6 10.6M809.0 792.6l10.6 -10.6M820.8 787.7h15.6M828.6 779.9v15.6M823.3 782.4l10.6 10.6M823.3 793.0l10.6 -10.6M835.2 787.9h15.6M843.0 780.1v15.6M837.7 782.6l10.6 10.6M837.7 793.2l10.6 -10.6M849.8 788.0h15.6M857.6 780.2v15.6M852.3 782.7l10.6 10.6M852.3 793.3l10.6 -10.6M864.5 788.0h15.6M872.3 780.2v15.6M867.0 782.7l10.6 10.6M867.0 793.3l10.6 -10.6" stroke-width="1.6"/></g><g stroke="#4DBEEE" fill="none"><polyline points="219.3,788.0 228.2,788.0 237.2,788.0 246.3,788.0 255.5,787.9 264.8,787.9 274.1,787.9 283.5,787.8 293.1,787.6 302.7,787.4 312.3,787.0 322.1,786.5 332.0,785.6 341.9,784.4 352.0,782.5 362.1,779.9 372.3,776.2 382.6,771.1 393.1,764.1 403.6,754.7 414.2,742.4 424.9,726.6 435.6,706.9 446.5,682.7 457.5,653.8 468.6,620.3 479.8,582.5 491.1,541.3 502.5,498.8 514.0,455.3 525.6,411.2 537.3,373.2 549.1,344.7 561.0,323.9 573.0,314.2 585.1,315.9 597.4,329.5 609.7,353.6 622.2,402.3 634.8,453.2 647.5,507.5 660.3,558.1 673.2,606.7 686.2,652.9 699.4,688.1 712.7,718.9 726.1,742.0 739.6,759.0 753.2,770.3 767.0,777.6 780.9,782.2 794.9,784.9 809.0,786.4 823.3,787.2 837.7,787.7 852.2,787.8 866.9,787.9" stroke-width="1.3" stroke-linejoin="round"/><path d="M211.5 788.0h15.6M219.3 780.2v15.6M214.0 782.7l10.6 10.6M214.0 793.3l10.6 -10.6M220.4 788.0h15.6M228.2 780.2v15.6M222.9 782.7l10.6 10.6M222.9 793.3l10.6 -10.6M229.4 788.0h15.6M237.2 780.2v15.6M231.9 782.7l10.6 10.6M231.9 793.3l10.6 -10.6M238.5 788.0h15.6M246.3 780.2v15.6M241.0 782.7l10.6 10.6M241.0 793.3l10.6 -10.6M247.7 787.9h15.6M255.5 780.1v15.6M250.2 782.6l10.6 10.6M250.2 793.2l10.6 -10.6M257.0 787.9h15.6M264.8 780.1v15.6M259.5 782.6l10.6 10.6M259.5 793.2l10.6 -10.6M266.3 787.9h15.6M274.1 780.1v15.6M268.8 782.6l10.6 10.6M268.8 793.2l10.6 -10.6M275.7 787.8h15.6M283.5 780.0v15.6M278.2 782.5l10.6 10.6M278.2 793.1l10.6 -10.6M285.3 787.6h15.6M293.1 779.8v15.6M287.8 782.3l10.6 10.6M287.8 792.9l10.6 -10.6M294.9 787.4h15.6M302.7 779.6v15.6M297.4 782.1l10.6 10.6M297.4 792.7l10.6 -10.6M304.5 787.0h15.6M312.3 779.2v15.6M307.0 781.7l10.6 10.6M307.0 792.3l10.6 -10.6M314.3 786.5h15.6M322.1 778.7v15.6M316.8 781.2l10.6 10.6M316.8 791.8l10.6 -10.6M324.2 785.6h15.6M332.0 777.8v15.6M326.7 780.3l10.6 10.6M326.7 790.9l10.6 -10.6M334.1 784.4h15.6M341.9 776.6v15.6M336.6 779.1l10.6 10.6M336.6 789.7l10.6 -10.6M344.2 782.5h15.6M352.0 774.7v15.6M346.7 777.2l10.6 10.6M346.7 787.8l10.6 -10.6M354.3 779.9h15.6M362.1 772.1v15.6M356.8 774.6l10.6 10.6M356.8 785.2l10.6 -10.6M364.5 776.2h15.6M372.3 768.4v15.6M367.0 770.9l10.6 10.6M367.0 781.5l10.6 -10.6M374.8 771.1h15.6M382.6 763.3v15.6M377.3 765.8l10.6 10.6M377.3 776.4l10.6 -10.6M385.3 764.1h15.6M393.1 756.3v15.6M387.8 758.8l10.6 10.6M387.8 769.4l10.6 -10.6M395.8 754.7h15.6M403.6 746.9v15.6M398.3 749.4l10.6 10.6M398.3 760.0l10.6 -10.6M406.4 742.4h15.6M414.2 734.6v15.6M408.9 737.1l10.6 10.6M408.9 747.7l10.6 -10.6M417.1 726.6h15.6M424.9 718.8v15.6M419.6 721.3l10.6 10.6M419.6 731.9l10.6 -10.6M427.8 706.9h15.6M435.6 699.1v15.6M430.3 701.6l10.6 10.6M430.3 712.2l10.6 -10.6M438.7 682.7h15.6M446.5 674.9v15.6M441.2 677.4l10.6 10.6M441.2 688.0l10.6 -10.6M449.7 653.8h15.6M457.5 646.0v15.6M452.2 648.5l10.6 10.6M452.2 659.1l10.6 -10.6M460.8 620.3h15.6M468.6 612.5v15.6M463.3 615.0l10.6 10.6M463.3 625.6l10.6 -10.6M472.0 582.5h15.6M479.8 574.7v15.6M474.5 577.2l10.6 10.6M474.5 587.8l10.6 -10.6M483.3 541.3h15.6M491.1 533.5v15.6M485.8 536.0l10.6 10.6M485.8 546.6l10.6 -10.6M494.7 498.8h15.6M502.5 491.0v15.6M497.2 493.5l10.6 10.6M497.2 504.1l10.6 -10.6M506.2 455.3h15.6M514.0 447.5v15.6M508.7 450.0l10.6 10.6M508.7 460.6l10.6 -10.6M517.8 411.2h15.6M525.6 403.4v15.6M520.3 405.9l10.6 10.6M520.3 416.5l10.6 -10.6M529.5 373.2h15.6M537.3 365.4v15.6M532.0 367.9l10.6 10.6M532.0 378.5l10.6 -10.6M541.3 344.7h15.6M549.1 336.9v15.6M543.8 339.4l10.6 10.6M543.8 350.0l10.6 -10.6M553.2 323.9h15.6M561.0 316.1v15.6M555.7 318.6l10.6 10.6M555.7 329.2l10.6 -10.6M565.2 314.2h15.6M573.0 306.4v15.6M567.7 308.9l10.6 10.6M567.7 319.5l10.6 -10.6M577.3 315.9h15.6M585.1 308.1v15.6M579.8 310.6l10.6 10.6M579.8 321.2l10.6 -10.6M589.6 329.5h15.6M597.4 321.7v15.6M592.1 324.2l10.6 10.6M592.1 334.8l10.6 -10.6M601.9 353.6h15.6M609.7 345.8v15.6M604.4 348.3l10.6 10.6M604.4 358.9l10.6 -10.6M614.4 402.3h15.6M622.2 394.5v15.6M616.9 397.0l10.6 10.6M616.9 407.6l10.6 -10.6M627.0 453.2h15.6M634.8 445.4v15.6M629.5 447.9l10.6 10.6M629.5 458.5l10.6 -10.6M639.7 507.5h15.6M647.5 499.7v15.6M642.2 502.2l10.6 10.6M642.2 512.8l10.6 -10.6M652.5 558.1h15.6M660.3 550.3v15.6M655.0 552.8l10.6 10.6M655.0 563.4l10.6 -10.6M665.4 606.7h15.6M673.2 598.9v15.6M667.9 601.4l10.6 10.6M667.9 612.0l10.6 -10.6M678.4 652.9h15.6M686.2 645.1v15.6M680.9 647.6l10.6 10.6M680.9 658.2l10.6 -10.6M691.6 688.1h15.6M699.4 680.3v15.6M694.1 682.8l10.6 10.6M694.1 693.4l10.6 -10.6M704.9 718.9h15.6M712.7 711.1v15.6M707.4 713.6l10.6 10.6M707.4 724.2l10.6 -10.6M718.3 742.0h15.6M726.1 734.2v15.6M720.8 736.7l10.6 10.6M720.8 747.3l10.6 -10.6M731.8 759.0h15.6M739.6 751.2v15.6M734.3 753.7l10.6 10.6M734.3 764.3l10.6 -10.6M745.4 770.3h15.6M753.2 762.5v15.6M747.9 765.0l10.6 10.6M747.9 775.6l10.6 -10.6M759.2 777.6h15.6M767.0 769.8v15.6M761.7 772.3l10.6 10.6M761.7 782.9l10.6 -10.6M773.1 782.2h15.6M780.9 774.4v15.6M775.6 776.9l10.6 10.6M775.6 787.5l10.6 -10.6M787.1 784.9h15.6M794.9 777.1v15.6M789.6 779.6l10.6 10.6M789.6 790.2l10.6 -10.6M801.2 786.4h15.6M809.0 778.6v15.6M803.7 781.1l10.6 10.6M803.7 791.7l10.6 -10.6M815.5 787.2h15.6M823.3 779.4v15.6M818.0 781.9l10.6 10.6M818.0 792.5l10.6 -10.6M829.9 787.7h15.6M837.7 779.9v15.6M832.4 782.4l10.6 10.6M832.4 793.0l10.6 -10.6M844.4 787.8h15.6M852.2 780.0v15.6M846.9 782.5l10.6 10.6M846.9 793.1l10.6 -10.6M859.1 787.9h15.6M866.9 780.1v15.6M861.6 782.6l10.6 10.6M861.6 793.2l10.6 -10.6" stroke-width="1.6"/></g><g stroke="#A2142F" fill="none"><polyline points="216.0,788.0 224.9,788.0 233.9,788.0 243.0,787.9 252.1,787.9 261.4,787.9 270.7,787.8 280.1,787.6 289.5,787.4 299.1,787.1 308.8,786.7 318.5,786.0 328.3,785.0 338.3,783.6 348.3,781.7 358.4,778.9 368.5,775.0 378.8,769.9 389.2,763.0 399.7,753.9 410.2,742.3 420.9,727.6 431.7,710.6 442.5,689.1 453.5,661.9 464.5,632.4 475.7,599.0 486.9,562.6 498.3,524.4 509.7,485.0 521.3,447.0 532.9,411.1 544.7,383.1 556.6,361.9 568.6,350.7 580.7,346.7 592.9,354.1 605.2,368.7 617.6,400.2 630.1,441.3 642.8,482.8 655.5,532.3 668.4,578.2 681.4,622.9 694.5,661.3 707.8,694.1 721.1,722.6 734.6,743.2 748.2,757.8 761.9,768.8 775.7,776.3 789.7,781.1 803.8,784.1 818.0,785.9 832.4,786.9 846.8,787.5 861.4,787.8" stroke-width="1.3" stroke-linejoin="round"/><path d="M208.2 788.0h15.6M216.0 780.2v15.6M210.7 782.7l10.6 10.6M210.7 793.3l10.6 -10.6M217.1 788.0h15.6M224.9 780.2v15.6M219.6 782.7l10.6 10.6M219.6 793.3l10.6 -10.6M226.1 788.0h15.6M233.9 780.2v15.6M228.6 782.7l10.6 10.6M228.6 793.3l10.6 -10.6M235.2 787.9h15.6M243.0 780.1v15.6M237.7 782.6l10.6 10.6M237.7 793.2l10.6 -10.6M244.3 787.9h15.6M252.1 780.1v15.6M246.8 782.6l10.6 10.6M246.8 793.2l10.6 -10.6M253.6 787.9h15.6M261.4 780.1v15.6M256.1 782.6l10.6 10.6M256.1 793.2l10.6 -10.6M262.9 787.8h15.6M270.7 780.0v15.6M265.4 782.5l10.6 10.6M265.4 793.1l10.6 -10.6M272.3 787.6h15.6M280.1 779.8v15.6M274.8 782.3l10.6 10.6M274.8 792.9l10.6 -10.6M281.7 787.4h15.6M289.5 779.6v15.6M284.2 782.1l10.6 10.6M284.2 792.7l10.6 -10.6M291.3 787.1h15.6M299.1 779.3v15.6M293.8 781.8l10.6 10.6M293.8 792.4l10.6 -10.6M301.0 786.7h15.6M308.8 778.9v15.6M303.5 781.4l10.6 10.6M303.5 792.0l10.6 -10.6M310.7 786.0h15.6M318.5 778.2v15.6M313.2 780.7l10.6 10.6M313.2 791.3l10.6 -10.6M320.5 785.0h15.6M328.3 777.2v15.6M323.0 779.7l10.6 10.6M323.0 790.3l10.6 -10.6M330.5 783.6h15.6M338.3 775.8v15.6M333.0 778.3l10.6 10.6M333.0 788.9l10.6 -10.6M340.5 781.7h15.6M348.3 773.9v15.6M343.0 776.4l10.6 10.6M343.0 787.0l10.6 -10.6M350.6 778.9h15.6M358.4 771.1v15.6M353.1 773.6l10.6 10.6M353.1 784.2l10.6 -10.6M360.7 775.0h15.6M368.5 767.2v15.6M363.2 769.7l10.6 10.6M363.2 780.3l10.6 -10.6M371.0 769.9h15.6M378.8 762.1v15.6M373.5 764.6l10.6 10.6M373.5 775.2l10.6 -10.6M381.4 763.0h15.6M389.2 755.2v15.6M383.9 757.7l10.6 10.6M383.9 768.3l10.6 -10.6M391.9 753.9h15.6M399.7 746.1v15.6M394.4 748.6l10.6 10.6M394.4 759.2l10.6 -10.6M402.4 742.3h15.6M410.2 734.5v15.6M404.9 737.0l10.6 10.6M404.9 747.6l10.6 -10.6M413.1 727.6h15.6M420.9 719.8v15.6M415.6 722.3l10.6 10.6M415.6 732.9l10.6 -10.6M423.9 710.6h15.6M431.7 702.8v15.6M426.4 705.3l10.6 10.6M426.4 715.9l10.6 -10.6M434.7 689.1h15.6M442.5 681.3v15.6M437.2 683.8l10.6 10.6M437.2 694.4l10.6 -10.6M445.7 661.9h15.6M453.5 654.1v15.6M448.2 656.6l10.6 10.6M448.2 667.2l10.6 -10.6M456.7 632.4h15.6M464.5 624.6v15.6M459.2 627.1l10.6 10.6M459.2 637.7l10.6 -10.6M467.9 599.0h15.6M475.7 591.2v15.6M470.4 593.7l10.6 10.6M470.4 604.3l10.6 -10.6M479.1 562.6h15.6M486.9 554.8v15.6M481.6 557.3l10.6 10.6M481.6 567.9l10.6 -10.6M490.5 524.4h15.6M498.3 516.6v15.6M493.0 519.1l10.6 10.6M493.0 529.7l10.6 -10.6M501.9 485.0h15.6M509.7 477.2v15.6M504.4 479.7l10.6 10.6M504.4 490.3l10.6 -10.6M513.5 447.0h15.6M521.3 439.2v15.6M516.0 441.7l10.6 10.6M516.0 452.3l10.6 -10.6M525.1 411.1h15.6M532.9 403.3v15.6M527.6 405.8l10.6 10.6M527.6 416.4l10.6 -10.6M536.9 383.1h15.6M544.7 375.3v15.6M539.4 377.8l10.6 10.6M539.4 388.4l10.6 -10.6M548.8 361.9h15.6M556.6 354.1v15.6M551.3 356.6l10.6 10.6M551.3 367.2l10.6 -10.6M560.8 350.7h15.6M568.6 342.9v15.6M563.3 345.4l10.6 10.6M563.3 356.0l10.6 -10.6M572.9 346.7h15.6M580.7 338.9v15.6M575.4 341.4l10.6 10.6M575.4 352.0l10.6 -10.6M585.1 354.1h15.6M592.9 346.3v15.6M587.6 348.8l10.6 10.6M587.6 359.4l10.6 -10.6M597.4 368.7h15.6M605.2 360.9v15.6M599.9 363.4l10.6 10.6M599.9 374.0l10.6 -10.6M609.8 400.2h15.6M617.6 392.4v15.6M612.3 394.9l10.6 10.6M612.3 405.5l10.6 -10.6M622.3 441.3h15.6M630.1 433.5v15.6M624.8 436.0l10.6 10.6M624.8 446.6l10.6 -10.6M635.0 482.8h15.6M642.8 475.0v15.6M637.5 477.5l10.6 10.6M637.5 488.1l10.6 -10.6M647.7 532.3h15.6M655.5 524.5v15.6M650.2 527.0l10.6 10.6M650.2 537.6l10.6 -10.6M660.6 578.2h15.6M668.4 570.4v15.6M663.1 572.9l10.6 10.6M663.1 583.5l10.6 -10.6M673.6 622.9h15.6M681.4 615.1v15.6M676.1 617.6l10.6 10.6M676.1 628.2l10.6 -10.6M686.7 661.3h15.6M694.5 653.5v15.6M689.2 656.0l10.6 10.6M689.2 666.6l10.6 -10.6M700.0 694.1h15.6M707.8 686.3v15.6M702.5 688.8l10.6 10.6M702.5 699.4l10.6 -10.6M713.3 722.6h15.6M721.1 714.8v15.6M715.8 717.3l10.6 10.6M715.8 727.9l10.6 -10.6M726.8 743.2h15.6M734.6 735.4v15.6M729.3 737.9l10.6 10.6M729.3 748.5l10.6 -10.6M740.4 757.8h15.6M748.2 750.0v15.6M742.9 752.5l10.6 10.6M742.9 763.1l10.6 -10.6M754.1 768.8h15.6M761.9 761.0v15.6M756.6 763.5l10.6 10.6M756.6 774.1l10.6 -10.6M767.9 776.3h15.6M775.7 768.5v15.6M770.4 771.0l10.6 10.6M770.4 781.6l10.6 -10.6M781.9 781.1h15.6M789.7 773.3v15.6M784.4 775.8l10.6 10.6M784.4 786.4l10.6 -10.6M796.0 784.1h15.6M803.8 776.3v15.6M798.5 778.8l10.6 10.6M798.5 789.4l10.6 -10.6M810.2 785.9h15.6M818.0 778.1v15.6M812.7 780.6l10.6 10.6M812.7 791.2l10.6 -10.6M824.6 786.9h15.6M832.4 779.1v15.6M827.1 781.6l10.6 10.6M827.1 792.2l10.6 -10.6M839.0 787.5h15.6M846.8 779.7v15.6M841.5 782.2l10.6 10.6M841.5 792.8l10.6 -10.6M853.6 787.8h15.6M861.4 780.0v15.6M856.1 782.5l10.6 10.6M856.1 793.1l10.6 -10.6" stroke-width="1.6"/></g><g font-family="Liberation Sans, sans-serif" font-size="25.6" fill="#262626"><text x="71.09" y="824.60" font-size="25.6" fill="#262626">0.25</text><text x="251.01" y="824.60" font-size="25.6" fill="#262626">0.3</text><text x="416.69" y="824.60" font-size="25.6" fill="#262626">0.35</text><text x="596.61" y="824.60" font-size="25.6" fill="#262626">0.4</text><text x="762.29" y="824.60" font-size="25.6" fill="#262626">0.45</text><text x="942.21" y="824.60" font-size="25.6" fill="#262626">0.5</text><text x="72.96" y="798.60" font-size="25.6" fill="#262626">0</text><text x="72.96" y="669.27" font-size="25.6" fill="#262626">5</text><text x="58.73" y="539.93" font-size="25.6" fill="#262626"> 0</text><path d="M515 0V1237L197 1010V1180L530 1409H696V0Z" fill="#262626" transform="translate(58.73,539.93) scale(0.01250,-0.01250)"/><text x="58.73" y="410.60" font-size="25.6" fill="#262626"> 5</text><path d="M515 0V1237L197 1010V1180L530 1409H696V0Z" fill="#262626" transform="translate(58.73,410.60) scale(0.01250,-0.01250)"/><text x="58.73" y="281.27" font-size="25.6" fill="#262626">20</text><text x="58.73" y="151.93" font-size="25.6" fill="#262626">25</text><text x="58.73" y="22.60" font-size="25.6" fill="#262626">30</text></g><rect x="746.6" y="29.6" width="195.8" height="617.4" fill="#fff" stroke="#303030" stroke-width="1.3"/><g stroke="#0072BD" fill="none"><path d="M753 54.1H816.5" stroke-width="1.3"/><path d="M777.0 54.1h15.6M784.8 46.3v15.6M779.5 48.8l10.6 10.6M779.5 59.4l10.6 -10.6" stroke-width="1.6"/></g><g stroke="#D95319" fill="none"><path d="M753 97.8H816.5" stroke-width="1.3"/><path d="M777.0 97.8h15.6M784.8 90.0v15.6M779.5 92.5l10.6 10.6M779.5 103.1l10.6 -10.6" stroke-width="1.6"/></g><g stroke="#EDB120" fill="none"><path d="M753 141.5H816.5" stroke-width="1.3"/><path d="M777.0 141.5h15.6M784.8 133.7v15.6M779.5 136.2l10.6 10.6M779.5 146.8l10.6 -10.6" stroke-width="1.6"/></g><g stroke="#7E2F8E" fill="none"><path d="M753 185.3H816.5" stroke-width="1.3"/><path d="M777.0 185.3h15.6M784.8 177.5v15.6M779.5 180.0l10.6 10.6M779.5 190.6l10.6 -10.6" stroke-width="1.6"/></g><g stroke="#77AC30" fill="none"><path d="M753 229.0H816.5" stroke-width="1.3"/><path d="M777.0 229.0h15.6M784.8 221.2v15.6M779.5 223.7l10.6 10.6M779.5 234.3l10.6 -10.6" stroke-width="1.6"/></g><g stroke="#4DBEEE" fill="none"><path d="M753 272.7H816.5" stroke-width="1.3"/><path d="M777.0 272.7h15.6M784.8 264.9v15.6M779.5 267.4l10.6 10.6M779.5 278.0l10.6 -10.6" stroke-width="1.6"/></g><g stroke="#A2142F" fill="none"><path d="M753 316.4H816.5" stroke-width="1.3"/><path d="M777.0 316.4h15.6M784.8 308.6v15.6M779.5 311.1l10.6 10.6M779.5 321.7l10.6 -10.6" stroke-width="1.6"/></g><g stroke="#0072BD" fill="none"><path d="M753 360.1H816.5" stroke-width="1.3"/><path d="M777.0 360.1h15.6M784.8 352.3v15.6M779.5 354.8l10.6 10.6M779.5 365.4l10.6 -10.6" stroke-width="1.6"/></g><g stroke="#D95319" fill="none"><path d="M753 403.9H816.5" stroke-width="1.3"/><path d="M777.0 403.9h15.6M784.8 396.1v15.6M779.5 398.6l10.6 10.6M779.5 409.2l10.6 -10.6" stroke-width="1.6"/></g><g stroke="#EDB120" fill="none"><path d="M753 447.6H816.5" stroke-width="1.3"/><path d="M777.0 447.6h15.6M784.8 439.8v15.6M779.5 442.3l10.6 10.6M779.5 452.9l10.6 -10.6" stroke-width="1.6"/></g><g stroke="#7E2F8E" fill="none"><path d="M753 491.3H816.5" stroke-width="1.3"/><path d="M777.0 491.3h15.6M784.8 483.5v15.6M779.5 486.0l10.6 10.6M779.5 496.6l10.6 -10.6" stroke-width="1.6"/></g><g stroke="#77AC30" fill="none"><path d="M753 535.0H816.5" stroke-width="1.3"/><path d="M777.0 535.0h15.6M784.8 527.2v15.6M779.5 529.7l10.6 10.6M779.5 540.3l10.6 -10.6" stroke-width="1.6"/></g><g stroke="#4DBEEE" fill="none"><path d="M753 578.7H816.5" stroke-width="1.3"/><path d="M777.0 578.7h15.6M784.8 570.9v15.6M779.5 573.4l10.6 10.6M779.5 584.0l10.6 -10.6" stroke-width="1.6"/></g><g stroke="#A2142F" fill="none"><path d="M753 622.5H816.5" stroke-width="1.3"/><path d="M777.0 622.5h15.6M784.8 614.7v15.6M779.5 617.2l10.6 10.6M779.5 627.8l10.6 -10.6" stroke-width="1.6"/></g><g font-family="Liberation Sans, sans-serif" font-size="35" fill="#000"><text x="820.80" y="67.90" font-size="35" fill="#000">40</text><text x="820.80" y="111.62" font-size="35" fill="#000">90</text><text x="820.80" y="155.34" font-size="35" fill="#000">250</text><text x="820.80" y="199.06" font-size="35" fill="#000">360</text><text x="820.80" y="242.78" font-size="35" fill="#000">640</text><text x="820.80" y="286.50" font-size="35" fill="#000"> 000</text><path d="M515 0V1237L197 1010V1180L530 1409H696V0Z" fill="#000" transform="translate(820.80,286.50) scale(0.01709,-0.01709)"/><text x="820.80" y="330.22" font-size="35" fill="#000">2000</text><text x="820.80" y="373.94" font-size="35" fill="#000">3000</text><text x="820.80" y="417.66" font-size="35" fill="#000">4000</text><text x="820.80" y="461.38" font-size="35" fill="#000">9000</text><text x="820.80" y="505.10" font-size="35" fill="#000"> 6000</text><path d="M515 0V1237L197 1010V1180L530 1409H696V0Z" fill="#000" transform="translate(820.80,505.10) scale(0.01709,-0.01709)"/><text x="820.80" y="548.82" font-size="35" fill="#000">32000</text><text x="820.80" y="592.54" font-size="35" fill="#000">64000</text><text x="820.80" y="636.26" font-size="35" fill="#000"> 28000</text><path d="M515 0V1237L197 1010V1180L530 1409H696V0Z" fill="#000" transform="translate(820.80,636.26) scale(0.01709,-0.01709)"/></g><rect x="118.5" y="35.9" width="145.5" height="67.8" fill="#fff" stroke="#303030" stroke-width="1.3"/><g font-family="Liberation Sans, sans-serif"><text x="130.00" y="86.40" font-size="34" fill="#000">k= 0</text><path d="M515 0V1237L197 1010V1180L530 1409H696V0Z" fill="#000" transform="translate(166.86,86.40) scale(0.01660,-0.01660)"/><text x="205.67" y="70.40" font-size="25.5" fill="#000">-3</text></g><g transform="translate(38.3,442) rotate(-90)" font-family="Liberation Serif, serif" fill="#000"><text transform="scale(1.1,1)" x="0" y="0" font-size="46" font-style="italic">P</text><text transform="translate(32.6,0) scale(0.82,1)" x="0" y="0" font-size="48.5">(</text><text x="49.1" y="0" font-size="44" font-style="italic">ρ</text><text transform="translate(70.2,0) scale(0.82,1)" x="0" y="0" font-size="48.5">)</text></g><text x="520.8" y="854.4" font-family="Liberation Serif, serif" font-size="34" font-style="italic" fill="#000">ρ</text><rect x="489.3" y="863.4" width="77.6" height="1.7" fill="#000"/><text x="489.7" y="895.6" font-family="Liberation Serif, serif" font-size="33" font-style="italic" fill="#000">θ</text><text x="505.6" y="885.2" font-family="Liberation Serif, serif" font-size="26.5" fill="#000">0.005</text></svg></body></html>
